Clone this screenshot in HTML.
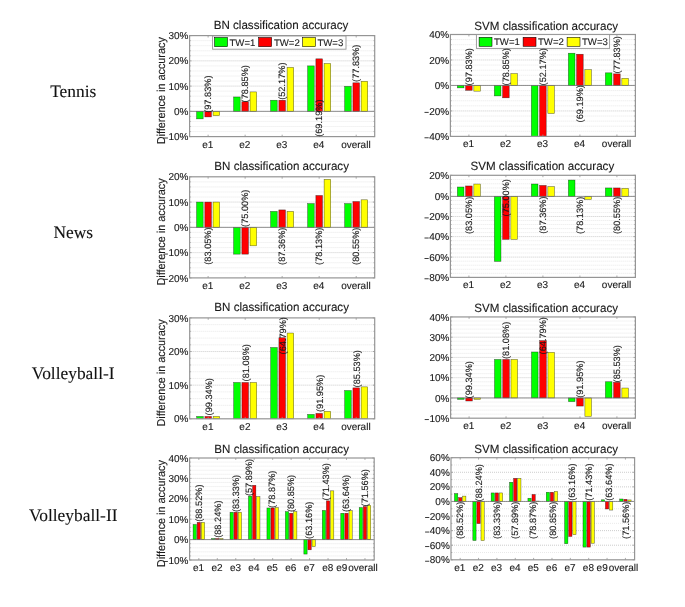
<!DOCTYPE html>
<html><head><meta charset="utf-8"><title>classification accuracy</title>
<style>
html,body{margin:0;padding:0;background:#fff;}
body{width:685px;height:607px;overflow:hidden;}
svg{display:block;will-change:transform;}
svg text{font-family:"Liberation Sans", sans-serif;text-rendering:geometricPrecision;stroke:#1a1a1a;stroke-width:0.12px;}
</style></head><body>
<svg width="685" height="607" viewBox="0 0 685 607">
<rect x="0" y="0" width="685" height="607" fill="#fff"/>
<line x1="190.6" y1="131.55" x2="373.7" y2="131.55" stroke="#e0e0e0" stroke-width="0.8" stroke-dasharray="0.9 1.1"/>
<line x1="190.6" y1="126.5" x2="373.7" y2="126.5" stroke="#e0e0e0" stroke-width="0.8" stroke-dasharray="0.9 1.1"/>
<line x1="190.6" y1="121.45" x2="373.7" y2="121.45" stroke="#e0e0e0" stroke-width="0.8" stroke-dasharray="0.9 1.1"/>
<line x1="190.6" y1="116.4" x2="373.7" y2="116.4" stroke="#e0e0e0" stroke-width="0.8" stroke-dasharray="0.9 1.1"/>
<line x1="190.6" y1="111.35" x2="373.7" y2="111.35" stroke="#b8b8b8" stroke-width="0.8" stroke-dasharray="0.9 1.1"/>
<line x1="190.6" y1="106.3" x2="373.7" y2="106.3" stroke="#e0e0e0" stroke-width="0.8" stroke-dasharray="0.9 1.1"/>
<line x1="190.6" y1="101.25" x2="373.7" y2="101.25" stroke="#e0e0e0" stroke-width="0.8" stroke-dasharray="0.9 1.1"/>
<line x1="190.6" y1="96.2" x2="373.7" y2="96.2" stroke="#e0e0e0" stroke-width="0.8" stroke-dasharray="0.9 1.1"/>
<line x1="190.6" y1="91.15" x2="373.7" y2="91.15" stroke="#e0e0e0" stroke-width="0.8" stroke-dasharray="0.9 1.1"/>
<line x1="190.6" y1="86.1" x2="373.7" y2="86.1" stroke="#b8b8b8" stroke-width="0.8" stroke-dasharray="0.9 1.1"/>
<line x1="190.6" y1="81.05" x2="373.7" y2="81.05" stroke="#e0e0e0" stroke-width="0.8" stroke-dasharray="0.9 1.1"/>
<line x1="190.6" y1="76" x2="373.7" y2="76" stroke="#e0e0e0" stroke-width="0.8" stroke-dasharray="0.9 1.1"/>
<line x1="190.6" y1="70.95" x2="373.7" y2="70.95" stroke="#e0e0e0" stroke-width="0.8" stroke-dasharray="0.9 1.1"/>
<line x1="190.6" y1="65.9" x2="373.7" y2="65.9" stroke="#e0e0e0" stroke-width="0.8" stroke-dasharray="0.9 1.1"/>
<line x1="190.6" y1="60.85" x2="373.7" y2="60.85" stroke="#b8b8b8" stroke-width="0.8" stroke-dasharray="0.9 1.1"/>
<line x1="190.6" y1="55.8" x2="373.7" y2="55.8" stroke="#e0e0e0" stroke-width="0.8" stroke-dasharray="0.9 1.1"/>
<line x1="190.6" y1="50.75" x2="373.7" y2="50.75" stroke="#e0e0e0" stroke-width="0.8" stroke-dasharray="0.9 1.1"/>
<line x1="190.6" y1="45.7" x2="373.7" y2="45.7" stroke="#e0e0e0" stroke-width="0.8" stroke-dasharray="0.9 1.1"/>
<line x1="190.6" y1="40.65" x2="373.7" y2="40.65" stroke="#e0e0e0" stroke-width="0.8" stroke-dasharray="0.9 1.1"/>
<rect x="196.59" y="111.35" width="6.58" height="7.5" fill="#00ff00" stroke="#000" stroke-opacity="0.6" stroke-width="0.55"/>
<rect x="204.82" y="111.35" width="6.58" height="5.56" fill="#ff0000" stroke="#000" stroke-opacity="0.6" stroke-width="0.55"/>
<rect x="213.05" y="111.35" width="6.58" height="4.29" fill="#ffff00" stroke="#000" stroke-opacity="0.6" stroke-width="0.55"/>
<rect x="233.61" y="96.96" width="6.58" height="14.39" fill="#00ff00" stroke="#000" stroke-opacity="0.6" stroke-width="0.55"/>
<rect x="241.84" y="101.75" width="6.58" height="9.59" fill="#ff0000" stroke="#000" stroke-opacity="0.6" stroke-width="0.55"/>
<rect x="250.07" y="91.91" width="6.58" height="19.44" fill="#ffff00" stroke="#000" stroke-opacity="0.6" stroke-width="0.55"/>
<rect x="270.63" y="100.24" width="6.58" height="11.11" fill="#00ff00" stroke="#000" stroke-opacity="0.6" stroke-width="0.55"/>
<rect x="278.86" y="100.24" width="6.58" height="11.11" fill="#ff0000" stroke="#000" stroke-opacity="0.6" stroke-width="0.55"/>
<rect x="287.09" y="67.42" width="6.58" height="43.93" fill="#ffff00" stroke="#000" stroke-opacity="0.6" stroke-width="0.55"/>
<rect x="307.65" y="65.9" width="6.58" height="45.45" fill="#00ff00" stroke="#000" stroke-opacity="0.6" stroke-width="0.55"/>
<rect x="315.88" y="58.83" width="6.58" height="52.52" fill="#ff0000" stroke="#000" stroke-opacity="0.6" stroke-width="0.55"/>
<rect x="324.11" y="63.5" width="6.58" height="47.85" fill="#ffff00" stroke="#000" stroke-opacity="0.6" stroke-width="0.55"/>
<rect x="344.67" y="86.35" width="6.58" height="25" fill="#00ff00" stroke="#000" stroke-opacity="0.6" stroke-width="0.55"/>
<rect x="352.9" y="82.82" width="6.58" height="28.53" fill="#ff0000" stroke="#000" stroke-opacity="0.6" stroke-width="0.55"/>
<rect x="361.13" y="81.3" width="6.58" height="30.05" fill="#ffff00" stroke="#000" stroke-opacity="0.6" stroke-width="0.55"/>
<line x1="189.6" y1="111.35" x2="374.7" y2="111.35" stroke="#707070" stroke-width="0.75"/>
<rect x="189.6" y="35.6" width="185.1" height="101" fill="none" stroke="#959595" stroke-width="1.2"/>
<line x1="189.6" y1="136.6" x2="191.5" y2="136.6" stroke="#959595" stroke-width="0.8"/>
<line x1="372.8" y1="136.6" x2="374.7" y2="136.6" stroke="#959595" stroke-width="0.8"/>
<line x1="189.6" y1="131.55" x2="190.7" y2="131.55" stroke="#959595" stroke-width="0.8"/>
<line x1="373.6" y1="131.55" x2="374.7" y2="131.55" stroke="#959595" stroke-width="0.8"/>
<line x1="189.6" y1="126.5" x2="190.7" y2="126.5" stroke="#959595" stroke-width="0.8"/>
<line x1="373.6" y1="126.5" x2="374.7" y2="126.5" stroke="#959595" stroke-width="0.8"/>
<line x1="189.6" y1="121.45" x2="190.7" y2="121.45" stroke="#959595" stroke-width="0.8"/>
<line x1="373.6" y1="121.45" x2="374.7" y2="121.45" stroke="#959595" stroke-width="0.8"/>
<line x1="189.6" y1="116.4" x2="190.7" y2="116.4" stroke="#959595" stroke-width="0.8"/>
<line x1="373.6" y1="116.4" x2="374.7" y2="116.4" stroke="#959595" stroke-width="0.8"/>
<line x1="189.6" y1="111.35" x2="191.5" y2="111.35" stroke="#959595" stroke-width="0.8"/>
<line x1="372.8" y1="111.35" x2="374.7" y2="111.35" stroke="#959595" stroke-width="0.8"/>
<line x1="189.6" y1="106.3" x2="190.7" y2="106.3" stroke="#959595" stroke-width="0.8"/>
<line x1="373.6" y1="106.3" x2="374.7" y2="106.3" stroke="#959595" stroke-width="0.8"/>
<line x1="189.6" y1="101.25" x2="190.7" y2="101.25" stroke="#959595" stroke-width="0.8"/>
<line x1="373.6" y1="101.25" x2="374.7" y2="101.25" stroke="#959595" stroke-width="0.8"/>
<line x1="189.6" y1="96.2" x2="190.7" y2="96.2" stroke="#959595" stroke-width="0.8"/>
<line x1="373.6" y1="96.2" x2="374.7" y2="96.2" stroke="#959595" stroke-width="0.8"/>
<line x1="189.6" y1="91.15" x2="190.7" y2="91.15" stroke="#959595" stroke-width="0.8"/>
<line x1="373.6" y1="91.15" x2="374.7" y2="91.15" stroke="#959595" stroke-width="0.8"/>
<line x1="189.6" y1="86.1" x2="191.5" y2="86.1" stroke="#959595" stroke-width="0.8"/>
<line x1="372.8" y1="86.1" x2="374.7" y2="86.1" stroke="#959595" stroke-width="0.8"/>
<line x1="189.6" y1="81.05" x2="190.7" y2="81.05" stroke="#959595" stroke-width="0.8"/>
<line x1="373.6" y1="81.05" x2="374.7" y2="81.05" stroke="#959595" stroke-width="0.8"/>
<line x1="189.6" y1="76" x2="190.7" y2="76" stroke="#959595" stroke-width="0.8"/>
<line x1="373.6" y1="76" x2="374.7" y2="76" stroke="#959595" stroke-width="0.8"/>
<line x1="189.6" y1="70.95" x2="190.7" y2="70.95" stroke="#959595" stroke-width="0.8"/>
<line x1="373.6" y1="70.95" x2="374.7" y2="70.95" stroke="#959595" stroke-width="0.8"/>
<line x1="189.6" y1="65.9" x2="190.7" y2="65.9" stroke="#959595" stroke-width="0.8"/>
<line x1="373.6" y1="65.9" x2="374.7" y2="65.9" stroke="#959595" stroke-width="0.8"/>
<line x1="189.6" y1="60.85" x2="191.5" y2="60.85" stroke="#959595" stroke-width="0.8"/>
<line x1="372.8" y1="60.85" x2="374.7" y2="60.85" stroke="#959595" stroke-width="0.8"/>
<line x1="189.6" y1="55.8" x2="190.7" y2="55.8" stroke="#959595" stroke-width="0.8"/>
<line x1="373.6" y1="55.8" x2="374.7" y2="55.8" stroke="#959595" stroke-width="0.8"/>
<line x1="189.6" y1="50.75" x2="190.7" y2="50.75" stroke="#959595" stroke-width="0.8"/>
<line x1="373.6" y1="50.75" x2="374.7" y2="50.75" stroke="#959595" stroke-width="0.8"/>
<line x1="189.6" y1="45.7" x2="190.7" y2="45.7" stroke="#959595" stroke-width="0.8"/>
<line x1="373.6" y1="45.7" x2="374.7" y2="45.7" stroke="#959595" stroke-width="0.8"/>
<line x1="189.6" y1="40.65" x2="190.7" y2="40.65" stroke="#959595" stroke-width="0.8"/>
<line x1="373.6" y1="40.65" x2="374.7" y2="40.65" stroke="#959595" stroke-width="0.8"/>
<line x1="189.6" y1="35.6" x2="191.5" y2="35.6" stroke="#959595" stroke-width="0.8"/>
<line x1="372.8" y1="35.6" x2="374.7" y2="35.6" stroke="#959595" stroke-width="0.8"/>
<line x1="208.11" y1="136.6" x2="208.11" y2="134.7" stroke="#959595" stroke-width="0.8"/>
<line x1="208.11" y1="35.6" x2="208.11" y2="37.5" stroke="#959595" stroke-width="0.8"/>
<line x1="245.13" y1="136.6" x2="245.13" y2="134.7" stroke="#959595" stroke-width="0.8"/>
<line x1="245.13" y1="35.6" x2="245.13" y2="37.5" stroke="#959595" stroke-width="0.8"/>
<line x1="282.15" y1="136.6" x2="282.15" y2="134.7" stroke="#959595" stroke-width="0.8"/>
<line x1="282.15" y1="35.6" x2="282.15" y2="37.5" stroke="#959595" stroke-width="0.8"/>
<line x1="319.17" y1="136.6" x2="319.17" y2="134.7" stroke="#959595" stroke-width="0.8"/>
<line x1="319.17" y1="35.6" x2="319.17" y2="37.5" stroke="#959595" stroke-width="0.8"/>
<line x1="356.19" y1="136.6" x2="356.19" y2="134.7" stroke="#959595" stroke-width="0.8"/>
<line x1="356.19" y1="35.6" x2="356.19" y2="37.5" stroke="#959595" stroke-width="0.8"/>
<rect x="212.6" y="36" width="133.4" height="13.2" fill="#fff" stroke="#959595" stroke-width="0.9"/>
<rect x="214.6" y="37.5" width="12.9" height="9.2" fill="#00ff00" stroke="#000" stroke-width="0.55"/>
<text x="229.5" y="45.6" font-size="9.6" fill="#1a1a1a">TW=1</text>
<rect x="258.7" y="37.5" width="12.9" height="9.2" fill="#ff0000" stroke="#000" stroke-width="0.55"/>
<text x="273.9" y="45.6" font-size="9.6" fill="#1a1a1a">TW=2</text>
<rect x="302.6" y="37.5" width="12.9" height="9.2" fill="#ffff00" stroke="#000" stroke-width="0.55"/>
<text x="317.4" y="45.6" font-size="9.6" fill="#1a1a1a">TW=3</text>
<text x="188.4" y="140.2" font-size="10" text-anchor="end" fill="#1a1a1a">10%</text>
<rect x="163.69" y="137.58" width="4.2" height="0.85" fill="#1a1a1a"/>
<text x="188.4" y="114.95" font-size="10" text-anchor="end" fill="#1a1a1a">0%</text>
<text x="188.4" y="89.7" font-size="10" text-anchor="end" fill="#1a1a1a">10%</text>
<text x="188.4" y="64.45" font-size="10" text-anchor="end" fill="#1a1a1a">20%</text>
<text x="188.4" y="39.2" font-size="10" text-anchor="end" fill="#1a1a1a">30%</text>
<text x="207.81" y="147.5" font-size="10" text-anchor="middle" fill="#1a1a1a">e1</text>
<text x="244.83" y="147.5" font-size="10" text-anchor="middle" fill="#1a1a1a">e2</text>
<text x="281.85" y="147.5" font-size="10" text-anchor="middle" fill="#1a1a1a">e3</text>
<text x="318.87" y="147.5" font-size="10" text-anchor="middle" fill="#1a1a1a">e4</text>
<text x="355.89" y="147.5" font-size="10" text-anchor="middle" fill="#1a1a1a">overall</text>
<text transform="translate(211.41 112.8) rotate(-90)" font-size="9.2" fill="#1a1a1a">(97.83%)</text>
<text transform="translate(248.43 102.4) rotate(-90)" font-size="9.2" fill="#1a1a1a">(78.85%)</text>
<text transform="translate(285.45 99.8) rotate(-90)" font-size="9.2" fill="#1a1a1a">(52.17%)</text>
<text transform="translate(322.47 136.8) rotate(-90)" font-size="9.2" fill="#1a1a1a">(69.19%)</text>
<text transform="translate(359.49 81.9) rotate(-90)" font-size="9.2" fill="#1a1a1a">(77.83%)</text>
<text transform="translate(213.7 29.35) scale(1 1.03)" font-size="11.6" fill="#1a1a1a">BN classification accuracy</text>
<text transform="translate(165.4 90.7) rotate(-90) scale(1 1.06)" font-size="10.85" text-anchor="middle" fill="#1a1a1a">Difference in accuracy</text>
<line x1="451.4" y1="131.31" x2="634.4" y2="131.31" stroke="#e0e0e0" stroke-width="0.8" stroke-dasharray="0.9 1.1"/>
<line x1="451.4" y1="126.21" x2="634.4" y2="126.21" stroke="#e0e0e0" stroke-width="0.8" stroke-dasharray="0.9 1.1"/>
<line x1="451.4" y1="121.12" x2="634.4" y2="121.12" stroke="#e0e0e0" stroke-width="0.8" stroke-dasharray="0.9 1.1"/>
<line x1="451.4" y1="116.02" x2="634.4" y2="116.02" stroke="#e0e0e0" stroke-width="0.8" stroke-dasharray="0.9 1.1"/>
<line x1="451.4" y1="110.93" x2="634.4" y2="110.93" stroke="#b8b8b8" stroke-width="0.8" stroke-dasharray="0.9 1.1"/>
<line x1="451.4" y1="105.83" x2="634.4" y2="105.83" stroke="#e0e0e0" stroke-width="0.8" stroke-dasharray="0.9 1.1"/>
<line x1="451.4" y1="100.74" x2="634.4" y2="100.74" stroke="#e0e0e0" stroke-width="0.8" stroke-dasharray="0.9 1.1"/>
<line x1="451.4" y1="95.64" x2="634.4" y2="95.64" stroke="#e0e0e0" stroke-width="0.8" stroke-dasharray="0.9 1.1"/>
<line x1="451.4" y1="90.55" x2="634.4" y2="90.55" stroke="#e0e0e0" stroke-width="0.8" stroke-dasharray="0.9 1.1"/>
<line x1="451.4" y1="85.45" x2="634.4" y2="85.45" stroke="#b8b8b8" stroke-width="0.8" stroke-dasharray="0.9 1.1"/>
<line x1="451.4" y1="80.36" x2="634.4" y2="80.36" stroke="#e0e0e0" stroke-width="0.8" stroke-dasharray="0.9 1.1"/>
<line x1="451.4" y1="75.26" x2="634.4" y2="75.26" stroke="#e0e0e0" stroke-width="0.8" stroke-dasharray="0.9 1.1"/>
<line x1="451.4" y1="70.17" x2="634.4" y2="70.17" stroke="#e0e0e0" stroke-width="0.8" stroke-dasharray="0.9 1.1"/>
<line x1="451.4" y1="65.07" x2="634.4" y2="65.07" stroke="#e0e0e0" stroke-width="0.8" stroke-dasharray="0.9 1.1"/>
<line x1="451.4" y1="59.98" x2="634.4" y2="59.98" stroke="#b8b8b8" stroke-width="0.8" stroke-dasharray="0.9 1.1"/>
<line x1="451.4" y1="54.88" x2="634.4" y2="54.88" stroke="#e0e0e0" stroke-width="0.8" stroke-dasharray="0.9 1.1"/>
<line x1="451.4" y1="49.79" x2="634.4" y2="49.79" stroke="#e0e0e0" stroke-width="0.8" stroke-dasharray="0.9 1.1"/>
<line x1="451.4" y1="44.69" x2="634.4" y2="44.69" stroke="#e0e0e0" stroke-width="0.8" stroke-dasharray="0.9 1.1"/>
<line x1="451.4" y1="39.59" x2="634.4" y2="39.59" stroke="#e0e0e0" stroke-width="0.8" stroke-dasharray="0.9 1.1"/>
<rect x="457.39" y="85.45" width="6.58" height="2.42" fill="#00ff00" stroke="#000" stroke-opacity="0.6" stroke-width="0.55"/>
<rect x="465.61" y="85.45" width="6.58" height="4.84" fill="#ff0000" stroke="#000" stroke-opacity="0.6" stroke-width="0.55"/>
<rect x="473.83" y="85.45" width="6.58" height="5.73" fill="#ffff00" stroke="#000" stroke-opacity="0.6" stroke-width="0.55"/>
<rect x="494.39" y="85.45" width="6.58" height="10.44" fill="#00ff00" stroke="#000" stroke-opacity="0.6" stroke-width="0.55"/>
<rect x="502.61" y="85.45" width="6.58" height="12.36" fill="#ff0000" stroke="#000" stroke-opacity="0.6" stroke-width="0.55"/>
<rect x="510.83" y="73.6" width="6.58" height="11.85" fill="#ffff00" stroke="#000" stroke-opacity="0.6" stroke-width="0.55"/>
<rect x="531.39" y="85.45" width="6.58" height="50.95" fill="#00ff00" stroke="#000" stroke-opacity="0.6" stroke-width="0.55"/>
<rect x="539.61" y="85.45" width="6.58" height="50.95" fill="#ff0000" stroke="#000" stroke-opacity="0.6" stroke-width="0.55"/>
<rect x="547.83" y="85.45" width="6.58" height="28.02" fill="#ffff00" stroke="#000" stroke-opacity="0.6" stroke-width="0.55"/>
<rect x="568.39" y="53.22" width="6.58" height="32.23" fill="#00ff00" stroke="#000" stroke-opacity="0.6" stroke-width="0.55"/>
<rect x="576.61" y="54.24" width="6.58" height="31.21" fill="#ff0000" stroke="#000" stroke-opacity="0.6" stroke-width="0.55"/>
<rect x="584.83" y="69.66" width="6.58" height="15.79" fill="#ffff00" stroke="#000" stroke-opacity="0.6" stroke-width="0.55"/>
<rect x="605.39" y="72.84" width="6.58" height="12.61" fill="#00ff00" stroke="#000" stroke-opacity="0.6" stroke-width="0.55"/>
<rect x="613.61" y="73.86" width="6.58" height="11.59" fill="#ff0000" stroke="#000" stroke-opacity="0.6" stroke-width="0.55"/>
<rect x="621.83" y="78.32" width="6.58" height="7.13" fill="#ffff00" stroke="#000" stroke-opacity="0.6" stroke-width="0.55"/>
<line x1="450.4" y1="85.45" x2="635.4" y2="85.45" stroke="#707070" stroke-width="0.75"/>
<rect x="450.4" y="34.5" width="185" height="101.9" fill="none" stroke="#959595" stroke-width="1.2"/>
<line x1="450.4" y1="136.4" x2="452.3" y2="136.4" stroke="#959595" stroke-width="0.8"/>
<line x1="633.5" y1="136.4" x2="635.4" y2="136.4" stroke="#959595" stroke-width="0.8"/>
<line x1="450.4" y1="131.31" x2="451.5" y2="131.31" stroke="#959595" stroke-width="0.8"/>
<line x1="634.3" y1="131.31" x2="635.4" y2="131.31" stroke="#959595" stroke-width="0.8"/>
<line x1="450.4" y1="126.21" x2="451.5" y2="126.21" stroke="#959595" stroke-width="0.8"/>
<line x1="634.3" y1="126.21" x2="635.4" y2="126.21" stroke="#959595" stroke-width="0.8"/>
<line x1="450.4" y1="121.12" x2="451.5" y2="121.12" stroke="#959595" stroke-width="0.8"/>
<line x1="634.3" y1="121.12" x2="635.4" y2="121.12" stroke="#959595" stroke-width="0.8"/>
<line x1="450.4" y1="116.02" x2="451.5" y2="116.02" stroke="#959595" stroke-width="0.8"/>
<line x1="634.3" y1="116.02" x2="635.4" y2="116.02" stroke="#959595" stroke-width="0.8"/>
<line x1="450.4" y1="110.93" x2="452.3" y2="110.93" stroke="#959595" stroke-width="0.8"/>
<line x1="633.5" y1="110.93" x2="635.4" y2="110.93" stroke="#959595" stroke-width="0.8"/>
<line x1="450.4" y1="105.83" x2="451.5" y2="105.83" stroke="#959595" stroke-width="0.8"/>
<line x1="634.3" y1="105.83" x2="635.4" y2="105.83" stroke="#959595" stroke-width="0.8"/>
<line x1="450.4" y1="100.74" x2="451.5" y2="100.74" stroke="#959595" stroke-width="0.8"/>
<line x1="634.3" y1="100.74" x2="635.4" y2="100.74" stroke="#959595" stroke-width="0.8"/>
<line x1="450.4" y1="95.64" x2="451.5" y2="95.64" stroke="#959595" stroke-width="0.8"/>
<line x1="634.3" y1="95.64" x2="635.4" y2="95.64" stroke="#959595" stroke-width="0.8"/>
<line x1="450.4" y1="90.55" x2="451.5" y2="90.55" stroke="#959595" stroke-width="0.8"/>
<line x1="634.3" y1="90.55" x2="635.4" y2="90.55" stroke="#959595" stroke-width="0.8"/>
<line x1="450.4" y1="85.45" x2="452.3" y2="85.45" stroke="#959595" stroke-width="0.8"/>
<line x1="633.5" y1="85.45" x2="635.4" y2="85.45" stroke="#959595" stroke-width="0.8"/>
<line x1="450.4" y1="80.36" x2="451.5" y2="80.36" stroke="#959595" stroke-width="0.8"/>
<line x1="634.3" y1="80.36" x2="635.4" y2="80.36" stroke="#959595" stroke-width="0.8"/>
<line x1="450.4" y1="75.26" x2="451.5" y2="75.26" stroke="#959595" stroke-width="0.8"/>
<line x1="634.3" y1="75.26" x2="635.4" y2="75.26" stroke="#959595" stroke-width="0.8"/>
<line x1="450.4" y1="70.17" x2="451.5" y2="70.17" stroke="#959595" stroke-width="0.8"/>
<line x1="634.3" y1="70.17" x2="635.4" y2="70.17" stroke="#959595" stroke-width="0.8"/>
<line x1="450.4" y1="65.07" x2="451.5" y2="65.07" stroke="#959595" stroke-width="0.8"/>
<line x1="634.3" y1="65.07" x2="635.4" y2="65.07" stroke="#959595" stroke-width="0.8"/>
<line x1="450.4" y1="59.98" x2="452.3" y2="59.98" stroke="#959595" stroke-width="0.8"/>
<line x1="633.5" y1="59.98" x2="635.4" y2="59.98" stroke="#959595" stroke-width="0.8"/>
<line x1="450.4" y1="54.88" x2="451.5" y2="54.88" stroke="#959595" stroke-width="0.8"/>
<line x1="634.3" y1="54.88" x2="635.4" y2="54.88" stroke="#959595" stroke-width="0.8"/>
<line x1="450.4" y1="49.79" x2="451.5" y2="49.79" stroke="#959595" stroke-width="0.8"/>
<line x1="634.3" y1="49.79" x2="635.4" y2="49.79" stroke="#959595" stroke-width="0.8"/>
<line x1="450.4" y1="44.69" x2="451.5" y2="44.69" stroke="#959595" stroke-width="0.8"/>
<line x1="634.3" y1="44.69" x2="635.4" y2="44.69" stroke="#959595" stroke-width="0.8"/>
<line x1="450.4" y1="39.59" x2="451.5" y2="39.59" stroke="#959595" stroke-width="0.8"/>
<line x1="634.3" y1="39.59" x2="635.4" y2="39.59" stroke="#959595" stroke-width="0.8"/>
<line x1="450.4" y1="34.5" x2="452.3" y2="34.5" stroke="#959595" stroke-width="0.8"/>
<line x1="633.5" y1="34.5" x2="635.4" y2="34.5" stroke="#959595" stroke-width="0.8"/>
<line x1="468.9" y1="136.4" x2="468.9" y2="134.5" stroke="#959595" stroke-width="0.8"/>
<line x1="468.9" y1="34.5" x2="468.9" y2="36.4" stroke="#959595" stroke-width="0.8"/>
<line x1="505.9" y1="136.4" x2="505.9" y2="134.5" stroke="#959595" stroke-width="0.8"/>
<line x1="505.9" y1="34.5" x2="505.9" y2="36.4" stroke="#959595" stroke-width="0.8"/>
<line x1="542.9" y1="136.4" x2="542.9" y2="134.5" stroke="#959595" stroke-width="0.8"/>
<line x1="542.9" y1="34.5" x2="542.9" y2="36.4" stroke="#959595" stroke-width="0.8"/>
<line x1="579.9" y1="136.4" x2="579.9" y2="134.5" stroke="#959595" stroke-width="0.8"/>
<line x1="579.9" y1="34.5" x2="579.9" y2="36.4" stroke="#959595" stroke-width="0.8"/>
<line x1="616.9" y1="136.4" x2="616.9" y2="134.5" stroke="#959595" stroke-width="0.8"/>
<line x1="616.9" y1="34.5" x2="616.9" y2="36.4" stroke="#959595" stroke-width="0.8"/>
<rect x="476.4" y="34.6" width="133.2" height="13.8" fill="#fff" stroke="#959595" stroke-width="0.9"/>
<rect x="479.1" y="37.3" width="12.9" height="9" fill="#00ff00" stroke="#000" stroke-width="0.55"/>
<text x="494" y="45.4" font-size="9.6" fill="#1a1a1a">TW=1</text>
<rect x="523.1" y="37.3" width="12.9" height="9" fill="#ff0000" stroke="#000" stroke-width="0.55"/>
<text x="538" y="45.4" font-size="9.6" fill="#1a1a1a">TW=2</text>
<rect x="567.1" y="37.3" width="12.9" height="9" fill="#ffff00" stroke="#000" stroke-width="0.55"/>
<text x="582" y="45.4" font-size="9.6" fill="#1a1a1a">TW=3</text>
<text x="449.2" y="140" font-size="10" text-anchor="end" fill="#1a1a1a">40%</text>
<rect x="424.49" y="137.38" width="4.2" height="0.85" fill="#1a1a1a"/>
<text x="449.2" y="114.53" font-size="10" text-anchor="end" fill="#1a1a1a">20%</text>
<rect x="424.49" y="111.91" width="4.2" height="0.85" fill="#1a1a1a"/>
<text x="449.2" y="89.05" font-size="10" text-anchor="end" fill="#1a1a1a">0%</text>
<text x="449.2" y="63.58" font-size="10" text-anchor="end" fill="#1a1a1a">20%</text>
<text x="449.2" y="38.1" font-size="10" text-anchor="end" fill="#1a1a1a">40%</text>
<text x="468.6" y="147.3" font-size="10" text-anchor="middle" fill="#1a1a1a">e1</text>
<text x="505.6" y="147.3" font-size="10" text-anchor="middle" fill="#1a1a1a">e2</text>
<text x="542.6" y="147.3" font-size="10" text-anchor="middle" fill="#1a1a1a">e3</text>
<text x="579.6" y="147.3" font-size="10" text-anchor="middle" fill="#1a1a1a">e4</text>
<text x="616.6" y="147.3" font-size="10" text-anchor="middle" fill="#1a1a1a">overall</text>
<text transform="translate(472.2 85.4) rotate(-90)" font-size="9.2" fill="#1a1a1a">(97.83%)</text>
<text transform="translate(509.2 85.4) rotate(-90)" font-size="9.2" fill="#1a1a1a">(78.85%)</text>
<text transform="translate(546.2 85.4) rotate(-90)" font-size="9.2" fill="#1a1a1a">(52.17%)</text>
<text transform="translate(583.2 122.4) rotate(-90)" font-size="9.2" fill="#1a1a1a">(69.19%)</text>
<text transform="translate(620.2 73.4) rotate(-90)" font-size="9.2" fill="#1a1a1a">(77.83%)</text>
<text transform="translate(474.3 29.7) scale(1 1.03)" font-size="11.6" fill="#1a1a1a">SVM classification accuracy</text>
<line x1="190.6" y1="272.84" x2="373.7" y2="272.84" stroke="#e0e0e0" stroke-width="0.8" stroke-dasharray="0.9 1.1"/>
<line x1="190.6" y1="267.79" x2="373.7" y2="267.79" stroke="#e0e0e0" stroke-width="0.8" stroke-dasharray="0.9 1.1"/>
<line x1="190.6" y1="262.73" x2="373.7" y2="262.73" stroke="#e0e0e0" stroke-width="0.8" stroke-dasharray="0.9 1.1"/>
<line x1="190.6" y1="257.68" x2="373.7" y2="257.68" stroke="#e0e0e0" stroke-width="0.8" stroke-dasharray="0.9 1.1"/>
<line x1="190.6" y1="252.62" x2="373.7" y2="252.62" stroke="#b8b8b8" stroke-width="0.8" stroke-dasharray="0.9 1.1"/>
<line x1="190.6" y1="247.57" x2="373.7" y2="247.57" stroke="#e0e0e0" stroke-width="0.8" stroke-dasharray="0.9 1.1"/>
<line x1="190.6" y1="242.51" x2="373.7" y2="242.51" stroke="#e0e0e0" stroke-width="0.8" stroke-dasharray="0.9 1.1"/>
<line x1="190.6" y1="237.46" x2="373.7" y2="237.46" stroke="#e0e0e0" stroke-width="0.8" stroke-dasharray="0.9 1.1"/>
<line x1="190.6" y1="232.4" x2="373.7" y2="232.4" stroke="#e0e0e0" stroke-width="0.8" stroke-dasharray="0.9 1.1"/>
<line x1="190.6" y1="227.35" x2="373.7" y2="227.35" stroke="#b8b8b8" stroke-width="0.8" stroke-dasharray="0.9 1.1"/>
<line x1="190.6" y1="222.29" x2="373.7" y2="222.29" stroke="#e0e0e0" stroke-width="0.8" stroke-dasharray="0.9 1.1"/>
<line x1="190.6" y1="217.24" x2="373.7" y2="217.24" stroke="#e0e0e0" stroke-width="0.8" stroke-dasharray="0.9 1.1"/>
<line x1="190.6" y1="212.19" x2="373.7" y2="212.19" stroke="#e0e0e0" stroke-width="0.8" stroke-dasharray="0.9 1.1"/>
<line x1="190.6" y1="207.13" x2="373.7" y2="207.13" stroke="#e0e0e0" stroke-width="0.8" stroke-dasharray="0.9 1.1"/>
<line x1="190.6" y1="202.07" x2="373.7" y2="202.07" stroke="#b8b8b8" stroke-width="0.8" stroke-dasharray="0.9 1.1"/>
<line x1="190.6" y1="197.02" x2="373.7" y2="197.02" stroke="#e0e0e0" stroke-width="0.8" stroke-dasharray="0.9 1.1"/>
<line x1="190.6" y1="191.97" x2="373.7" y2="191.97" stroke="#e0e0e0" stroke-width="0.8" stroke-dasharray="0.9 1.1"/>
<line x1="190.6" y1="186.91" x2="373.7" y2="186.91" stroke="#e0e0e0" stroke-width="0.8" stroke-dasharray="0.9 1.1"/>
<line x1="190.6" y1="181.86" x2="373.7" y2="181.86" stroke="#e0e0e0" stroke-width="0.8" stroke-dasharray="0.9 1.1"/>
<rect x="196.59" y="202.07" width="6.58" height="25.28" fill="#00ff00" stroke="#000" stroke-opacity="0.6" stroke-width="0.55"/>
<rect x="204.82" y="202.07" width="6.58" height="25.28" fill="#ff0000" stroke="#000" stroke-opacity="0.6" stroke-width="0.55"/>
<rect x="213.05" y="202.07" width="6.58" height="25.28" fill="#ffff00" stroke="#000" stroke-opacity="0.6" stroke-width="0.55"/>
<rect x="233.61" y="227.35" width="6.58" height="26.79" fill="#00ff00" stroke="#000" stroke-opacity="0.6" stroke-width="0.55"/>
<rect x="241.84" y="227.35" width="6.58" height="26.79" fill="#ff0000" stroke="#000" stroke-opacity="0.6" stroke-width="0.55"/>
<rect x="250.07" y="227.35" width="6.58" height="18.45" fill="#ffff00" stroke="#000" stroke-opacity="0.6" stroke-width="0.55"/>
<rect x="270.63" y="211.43" width="6.58" height="15.92" fill="#00ff00" stroke="#000" stroke-opacity="0.6" stroke-width="0.55"/>
<rect x="278.86" y="209.91" width="6.58" height="17.44" fill="#ff0000" stroke="#000" stroke-opacity="0.6" stroke-width="0.55"/>
<rect x="287.09" y="211.43" width="6.58" height="15.92" fill="#ffff00" stroke="#000" stroke-opacity="0.6" stroke-width="0.55"/>
<rect x="307.65" y="203.59" width="6.58" height="23.76" fill="#00ff00" stroke="#000" stroke-opacity="0.6" stroke-width="0.55"/>
<rect x="315.88" y="195.5" width="6.58" height="31.85" fill="#ff0000" stroke="#000" stroke-opacity="0.6" stroke-width="0.55"/>
<rect x="324.11" y="179.33" width="6.58" height="48.02" fill="#ffff00" stroke="#000" stroke-opacity="0.6" stroke-width="0.55"/>
<rect x="344.67" y="203.59" width="6.58" height="23.76" fill="#00ff00" stroke="#000" stroke-opacity="0.6" stroke-width="0.55"/>
<rect x="352.9" y="201.57" width="6.58" height="25.78" fill="#ff0000" stroke="#000" stroke-opacity="0.6" stroke-width="0.55"/>
<rect x="361.13" y="199.8" width="6.58" height="27.55" fill="#ffff00" stroke="#000" stroke-opacity="0.6" stroke-width="0.55"/>
<line x1="189.6" y1="227.35" x2="374.7" y2="227.35" stroke="#707070" stroke-width="0.75"/>
<rect x="189.6" y="176.8" width="185.1" height="101.1" fill="none" stroke="#959595" stroke-width="1.2"/>
<line x1="189.6" y1="277.9" x2="191.5" y2="277.9" stroke="#959595" stroke-width="0.8"/>
<line x1="372.8" y1="277.9" x2="374.7" y2="277.9" stroke="#959595" stroke-width="0.8"/>
<line x1="189.6" y1="272.84" x2="190.7" y2="272.84" stroke="#959595" stroke-width="0.8"/>
<line x1="373.6" y1="272.84" x2="374.7" y2="272.84" stroke="#959595" stroke-width="0.8"/>
<line x1="189.6" y1="267.79" x2="190.7" y2="267.79" stroke="#959595" stroke-width="0.8"/>
<line x1="373.6" y1="267.79" x2="374.7" y2="267.79" stroke="#959595" stroke-width="0.8"/>
<line x1="189.6" y1="262.73" x2="190.7" y2="262.73" stroke="#959595" stroke-width="0.8"/>
<line x1="373.6" y1="262.73" x2="374.7" y2="262.73" stroke="#959595" stroke-width="0.8"/>
<line x1="189.6" y1="257.68" x2="190.7" y2="257.68" stroke="#959595" stroke-width="0.8"/>
<line x1="373.6" y1="257.68" x2="374.7" y2="257.68" stroke="#959595" stroke-width="0.8"/>
<line x1="189.6" y1="252.62" x2="191.5" y2="252.62" stroke="#959595" stroke-width="0.8"/>
<line x1="372.8" y1="252.62" x2="374.7" y2="252.62" stroke="#959595" stroke-width="0.8"/>
<line x1="189.6" y1="247.57" x2="190.7" y2="247.57" stroke="#959595" stroke-width="0.8"/>
<line x1="373.6" y1="247.57" x2="374.7" y2="247.57" stroke="#959595" stroke-width="0.8"/>
<line x1="189.6" y1="242.51" x2="190.7" y2="242.51" stroke="#959595" stroke-width="0.8"/>
<line x1="373.6" y1="242.51" x2="374.7" y2="242.51" stroke="#959595" stroke-width="0.8"/>
<line x1="189.6" y1="237.46" x2="190.7" y2="237.46" stroke="#959595" stroke-width="0.8"/>
<line x1="373.6" y1="237.46" x2="374.7" y2="237.46" stroke="#959595" stroke-width="0.8"/>
<line x1="189.6" y1="232.4" x2="190.7" y2="232.4" stroke="#959595" stroke-width="0.8"/>
<line x1="373.6" y1="232.4" x2="374.7" y2="232.4" stroke="#959595" stroke-width="0.8"/>
<line x1="189.6" y1="227.35" x2="191.5" y2="227.35" stroke="#959595" stroke-width="0.8"/>
<line x1="372.8" y1="227.35" x2="374.7" y2="227.35" stroke="#959595" stroke-width="0.8"/>
<line x1="189.6" y1="222.29" x2="190.7" y2="222.29" stroke="#959595" stroke-width="0.8"/>
<line x1="373.6" y1="222.29" x2="374.7" y2="222.29" stroke="#959595" stroke-width="0.8"/>
<line x1="189.6" y1="217.24" x2="190.7" y2="217.24" stroke="#959595" stroke-width="0.8"/>
<line x1="373.6" y1="217.24" x2="374.7" y2="217.24" stroke="#959595" stroke-width="0.8"/>
<line x1="189.6" y1="212.19" x2="190.7" y2="212.19" stroke="#959595" stroke-width="0.8"/>
<line x1="373.6" y1="212.19" x2="374.7" y2="212.19" stroke="#959595" stroke-width="0.8"/>
<line x1="189.6" y1="207.13" x2="190.7" y2="207.13" stroke="#959595" stroke-width="0.8"/>
<line x1="373.6" y1="207.13" x2="374.7" y2="207.13" stroke="#959595" stroke-width="0.8"/>
<line x1="189.6" y1="202.07" x2="191.5" y2="202.07" stroke="#959595" stroke-width="0.8"/>
<line x1="372.8" y1="202.07" x2="374.7" y2="202.07" stroke="#959595" stroke-width="0.8"/>
<line x1="189.6" y1="197.02" x2="190.7" y2="197.02" stroke="#959595" stroke-width="0.8"/>
<line x1="373.6" y1="197.02" x2="374.7" y2="197.02" stroke="#959595" stroke-width="0.8"/>
<line x1="189.6" y1="191.97" x2="190.7" y2="191.97" stroke="#959595" stroke-width="0.8"/>
<line x1="373.6" y1="191.97" x2="374.7" y2="191.97" stroke="#959595" stroke-width="0.8"/>
<line x1="189.6" y1="186.91" x2="190.7" y2="186.91" stroke="#959595" stroke-width="0.8"/>
<line x1="373.6" y1="186.91" x2="374.7" y2="186.91" stroke="#959595" stroke-width="0.8"/>
<line x1="189.6" y1="181.86" x2="190.7" y2="181.86" stroke="#959595" stroke-width="0.8"/>
<line x1="373.6" y1="181.86" x2="374.7" y2="181.86" stroke="#959595" stroke-width="0.8"/>
<line x1="189.6" y1="176.8" x2="191.5" y2="176.8" stroke="#959595" stroke-width="0.8"/>
<line x1="372.8" y1="176.8" x2="374.7" y2="176.8" stroke="#959595" stroke-width="0.8"/>
<line x1="208.11" y1="277.9" x2="208.11" y2="276" stroke="#959595" stroke-width="0.8"/>
<line x1="208.11" y1="176.8" x2="208.11" y2="178.7" stroke="#959595" stroke-width="0.8"/>
<line x1="245.13" y1="277.9" x2="245.13" y2="276" stroke="#959595" stroke-width="0.8"/>
<line x1="245.13" y1="176.8" x2="245.13" y2="178.7" stroke="#959595" stroke-width="0.8"/>
<line x1="282.15" y1="277.9" x2="282.15" y2="276" stroke="#959595" stroke-width="0.8"/>
<line x1="282.15" y1="176.8" x2="282.15" y2="178.7" stroke="#959595" stroke-width="0.8"/>
<line x1="319.17" y1="277.9" x2="319.17" y2="276" stroke="#959595" stroke-width="0.8"/>
<line x1="319.17" y1="176.8" x2="319.17" y2="178.7" stroke="#959595" stroke-width="0.8"/>
<line x1="356.19" y1="277.9" x2="356.19" y2="276" stroke="#959595" stroke-width="0.8"/>
<line x1="356.19" y1="176.8" x2="356.19" y2="178.7" stroke="#959595" stroke-width="0.8"/>
<text x="188.4" y="281.5" font-size="10" text-anchor="end" fill="#1a1a1a">20%</text>
<rect x="163.69" y="278.88" width="4.2" height="0.85" fill="#1a1a1a"/>
<text x="188.4" y="256.23" font-size="10" text-anchor="end" fill="#1a1a1a">10%</text>
<rect x="163.69" y="253.61" width="4.2" height="0.85" fill="#1a1a1a"/>
<text x="188.4" y="230.95" font-size="10" text-anchor="end" fill="#1a1a1a">0%</text>
<text x="188.4" y="205.67" font-size="10" text-anchor="end" fill="#1a1a1a">10%</text>
<text x="188.4" y="180.4" font-size="10" text-anchor="end" fill="#1a1a1a">20%</text>
<text x="207.81" y="288.8" font-size="10" text-anchor="middle" fill="#1a1a1a">e1</text>
<text x="244.83" y="288.8" font-size="10" text-anchor="middle" fill="#1a1a1a">e2</text>
<text x="281.85" y="288.8" font-size="10" text-anchor="middle" fill="#1a1a1a">e3</text>
<text x="318.87" y="288.8" font-size="10" text-anchor="middle" fill="#1a1a1a">e4</text>
<text x="355.89" y="288.8" font-size="10" text-anchor="middle" fill="#1a1a1a">overall</text>
<text transform="translate(211.41 264.7) rotate(-90)" font-size="9.2" fill="#1a1a1a">(83.05%)</text>
<text transform="translate(248.43 226.9) rotate(-90)" font-size="9.2" fill="#1a1a1a">(75.00%)</text>
<text transform="translate(285.45 264.9) rotate(-90)" font-size="9.2" fill="#1a1a1a">(87.36%)</text>
<text transform="translate(322.47 264.9) rotate(-90)" font-size="9.2" fill="#1a1a1a">(78.13%)</text>
<text transform="translate(359.49 264.9) rotate(-90)" font-size="9.2" fill="#1a1a1a">(80.55%)</text>
<text transform="translate(214.3 170) scale(1 1.03)" font-size="11.6" fill="#1a1a1a">BN classification accuracy</text>
<text transform="translate(165.4 231.95) rotate(-90) scale(1 1.06)" font-size="10.85" text-anchor="middle" fill="#1a1a1a">Difference in accuracy</text>
<line x1="451.4" y1="273.34" x2="634.4" y2="273.34" stroke="#e0e0e0" stroke-width="0.8" stroke-dasharray="0.9 1.1"/>
<line x1="451.4" y1="269.28" x2="634.4" y2="269.28" stroke="#e0e0e0" stroke-width="0.8" stroke-dasharray="0.9 1.1"/>
<line x1="451.4" y1="265.22" x2="634.4" y2="265.22" stroke="#e0e0e0" stroke-width="0.8" stroke-dasharray="0.9 1.1"/>
<line x1="451.4" y1="261.16" x2="634.4" y2="261.16" stroke="#e0e0e0" stroke-width="0.8" stroke-dasharray="0.9 1.1"/>
<line x1="451.4" y1="257.1" x2="634.4" y2="257.1" stroke="#b8b8b8" stroke-width="0.8" stroke-dasharray="0.9 1.1"/>
<line x1="451.4" y1="253" x2="634.4" y2="253" stroke="#e0e0e0" stroke-width="0.8" stroke-dasharray="0.9 1.1"/>
<line x1="451.4" y1="248.9" x2="634.4" y2="248.9" stroke="#e0e0e0" stroke-width="0.8" stroke-dasharray="0.9 1.1"/>
<line x1="451.4" y1="244.8" x2="634.4" y2="244.8" stroke="#e0e0e0" stroke-width="0.8" stroke-dasharray="0.9 1.1"/>
<line x1="451.4" y1="240.7" x2="634.4" y2="240.7" stroke="#e0e0e0" stroke-width="0.8" stroke-dasharray="0.9 1.1"/>
<line x1="451.4" y1="236.6" x2="634.4" y2="236.6" stroke="#b8b8b8" stroke-width="0.8" stroke-dasharray="0.9 1.1"/>
<line x1="451.4" y1="232.58" x2="634.4" y2="232.58" stroke="#e0e0e0" stroke-width="0.8" stroke-dasharray="0.9 1.1"/>
<line x1="451.4" y1="228.56" x2="634.4" y2="228.56" stroke="#e0e0e0" stroke-width="0.8" stroke-dasharray="0.9 1.1"/>
<line x1="451.4" y1="224.54" x2="634.4" y2="224.54" stroke="#e0e0e0" stroke-width="0.8" stroke-dasharray="0.9 1.1"/>
<line x1="451.4" y1="220.52" x2="634.4" y2="220.52" stroke="#e0e0e0" stroke-width="0.8" stroke-dasharray="0.9 1.1"/>
<line x1="451.4" y1="216.5" x2="634.4" y2="216.5" stroke="#b8b8b8" stroke-width="0.8" stroke-dasharray="0.9 1.1"/>
<line x1="451.4" y1="212.48" x2="634.4" y2="212.48" stroke="#e0e0e0" stroke-width="0.8" stroke-dasharray="0.9 1.1"/>
<line x1="451.4" y1="208.46" x2="634.4" y2="208.46" stroke="#e0e0e0" stroke-width="0.8" stroke-dasharray="0.9 1.1"/>
<line x1="451.4" y1="204.44" x2="634.4" y2="204.44" stroke="#e0e0e0" stroke-width="0.8" stroke-dasharray="0.9 1.1"/>
<line x1="451.4" y1="200.42" x2="634.4" y2="200.42" stroke="#e0e0e0" stroke-width="0.8" stroke-dasharray="0.9 1.1"/>
<line x1="451.4" y1="196.4" x2="634.4" y2="196.4" stroke="#b8b8b8" stroke-width="0.8" stroke-dasharray="0.9 1.1"/>
<line x1="451.4" y1="192.18" x2="634.4" y2="192.18" stroke="#e0e0e0" stroke-width="0.8" stroke-dasharray="0.9 1.1"/>
<line x1="451.4" y1="187.96" x2="634.4" y2="187.96" stroke="#e0e0e0" stroke-width="0.8" stroke-dasharray="0.9 1.1"/>
<line x1="451.4" y1="183.74" x2="634.4" y2="183.74" stroke="#e0e0e0" stroke-width="0.8" stroke-dasharray="0.9 1.1"/>
<line x1="451.4" y1="179.52" x2="634.4" y2="179.52" stroke="#e0e0e0" stroke-width="0.8" stroke-dasharray="0.9 1.1"/>
<rect x="457.39" y="187.01" width="6.58" height="9.39" fill="#00ff00" stroke="#000" stroke-opacity="0.6" stroke-width="0.55"/>
<rect x="465.61" y="185.96" width="6.58" height="10.44" fill="#ff0000" stroke="#000" stroke-opacity="0.6" stroke-width="0.55"/>
<rect x="473.83" y="184.06" width="6.58" height="12.34" fill="#ffff00" stroke="#000" stroke-opacity="0.6" stroke-width="0.55"/>
<rect x="494.39" y="196.4" width="6.58" height="64.96" fill="#00ff00" stroke="#000" stroke-opacity="0.6" stroke-width="0.55"/>
<rect x="502.61" y="196.4" width="6.58" height="42.97" fill="#ff0000" stroke="#000" stroke-opacity="0.6" stroke-width="0.55"/>
<rect x="510.83" y="196.4" width="6.58" height="42.97" fill="#ffff00" stroke="#000" stroke-opacity="0.6" stroke-width="0.55"/>
<rect x="531.39" y="184" width="6.58" height="12.4" fill="#00ff00" stroke="#000" stroke-opacity="0.6" stroke-width="0.55"/>
<rect x="539.61" y="185.43" width="6.58" height="10.97" fill="#ff0000" stroke="#000" stroke-opacity="0.6" stroke-width="0.55"/>
<rect x="547.83" y="186.59" width="6.58" height="9.81" fill="#ffff00" stroke="#000" stroke-opacity="0.6" stroke-width="0.55"/>
<rect x="568.39" y="180.05" width="6.58" height="16.35" fill="#00ff00" stroke="#000" stroke-opacity="0.6" stroke-width="0.55"/>
<rect x="584.83" y="196.4" width="6.58" height="3.01" fill="#ffff00" stroke="#000" stroke-opacity="0.6" stroke-width="0.55"/>
<rect x="605.39" y="187.96" width="6.58" height="8.44" fill="#00ff00" stroke="#000" stroke-opacity="0.6" stroke-width="0.55"/>
<rect x="613.61" y="187.96" width="6.58" height="8.44" fill="#ff0000" stroke="#000" stroke-opacity="0.6" stroke-width="0.55"/>
<rect x="621.83" y="188.38" width="6.58" height="8.02" fill="#ffff00" stroke="#000" stroke-opacity="0.6" stroke-width="0.55"/>
<line x1="450.4" y1="196.4" x2="635.4" y2="196.4" stroke="#707070" stroke-width="0.75"/>
<rect x="450.4" y="175.3" width="185" height="102.1" fill="none" stroke="#959595" stroke-width="1.2"/>
<line x1="450.4" y1="277.4" x2="452.3" y2="277.4" stroke="#959595" stroke-width="0.8"/>
<line x1="633.5" y1="277.4" x2="635.4" y2="277.4" stroke="#959595" stroke-width="0.8"/>
<line x1="450.4" y1="273.34" x2="451.5" y2="273.34" stroke="#959595" stroke-width="0.8"/>
<line x1="634.3" y1="273.34" x2="635.4" y2="273.34" stroke="#959595" stroke-width="0.8"/>
<line x1="450.4" y1="269.28" x2="451.5" y2="269.28" stroke="#959595" stroke-width="0.8"/>
<line x1="634.3" y1="269.28" x2="635.4" y2="269.28" stroke="#959595" stroke-width="0.8"/>
<line x1="450.4" y1="265.22" x2="451.5" y2="265.22" stroke="#959595" stroke-width="0.8"/>
<line x1="634.3" y1="265.22" x2="635.4" y2="265.22" stroke="#959595" stroke-width="0.8"/>
<line x1="450.4" y1="261.16" x2="451.5" y2="261.16" stroke="#959595" stroke-width="0.8"/>
<line x1="634.3" y1="261.16" x2="635.4" y2="261.16" stroke="#959595" stroke-width="0.8"/>
<line x1="450.4" y1="257.1" x2="452.3" y2="257.1" stroke="#959595" stroke-width="0.8"/>
<line x1="633.5" y1="257.1" x2="635.4" y2="257.1" stroke="#959595" stroke-width="0.8"/>
<line x1="450.4" y1="253" x2="451.5" y2="253" stroke="#959595" stroke-width="0.8"/>
<line x1="634.3" y1="253" x2="635.4" y2="253" stroke="#959595" stroke-width="0.8"/>
<line x1="450.4" y1="248.9" x2="451.5" y2="248.9" stroke="#959595" stroke-width="0.8"/>
<line x1="634.3" y1="248.9" x2="635.4" y2="248.9" stroke="#959595" stroke-width="0.8"/>
<line x1="450.4" y1="244.8" x2="451.5" y2="244.8" stroke="#959595" stroke-width="0.8"/>
<line x1="634.3" y1="244.8" x2="635.4" y2="244.8" stroke="#959595" stroke-width="0.8"/>
<line x1="450.4" y1="240.7" x2="451.5" y2="240.7" stroke="#959595" stroke-width="0.8"/>
<line x1="634.3" y1="240.7" x2="635.4" y2="240.7" stroke="#959595" stroke-width="0.8"/>
<line x1="450.4" y1="236.6" x2="452.3" y2="236.6" stroke="#959595" stroke-width="0.8"/>
<line x1="633.5" y1="236.6" x2="635.4" y2="236.6" stroke="#959595" stroke-width="0.8"/>
<line x1="450.4" y1="232.58" x2="451.5" y2="232.58" stroke="#959595" stroke-width="0.8"/>
<line x1="634.3" y1="232.58" x2="635.4" y2="232.58" stroke="#959595" stroke-width="0.8"/>
<line x1="450.4" y1="228.56" x2="451.5" y2="228.56" stroke="#959595" stroke-width="0.8"/>
<line x1="634.3" y1="228.56" x2="635.4" y2="228.56" stroke="#959595" stroke-width="0.8"/>
<line x1="450.4" y1="224.54" x2="451.5" y2="224.54" stroke="#959595" stroke-width="0.8"/>
<line x1="634.3" y1="224.54" x2="635.4" y2="224.54" stroke="#959595" stroke-width="0.8"/>
<line x1="450.4" y1="220.52" x2="451.5" y2="220.52" stroke="#959595" stroke-width="0.8"/>
<line x1="634.3" y1="220.52" x2="635.4" y2="220.52" stroke="#959595" stroke-width="0.8"/>
<line x1="450.4" y1="216.5" x2="452.3" y2="216.5" stroke="#959595" stroke-width="0.8"/>
<line x1="633.5" y1="216.5" x2="635.4" y2="216.5" stroke="#959595" stroke-width="0.8"/>
<line x1="450.4" y1="212.48" x2="451.5" y2="212.48" stroke="#959595" stroke-width="0.8"/>
<line x1="634.3" y1="212.48" x2="635.4" y2="212.48" stroke="#959595" stroke-width="0.8"/>
<line x1="450.4" y1="208.46" x2="451.5" y2="208.46" stroke="#959595" stroke-width="0.8"/>
<line x1="634.3" y1="208.46" x2="635.4" y2="208.46" stroke="#959595" stroke-width="0.8"/>
<line x1="450.4" y1="204.44" x2="451.5" y2="204.44" stroke="#959595" stroke-width="0.8"/>
<line x1="634.3" y1="204.44" x2="635.4" y2="204.44" stroke="#959595" stroke-width="0.8"/>
<line x1="450.4" y1="200.42" x2="451.5" y2="200.42" stroke="#959595" stroke-width="0.8"/>
<line x1="634.3" y1="200.42" x2="635.4" y2="200.42" stroke="#959595" stroke-width="0.8"/>
<line x1="450.4" y1="196.4" x2="452.3" y2="196.4" stroke="#959595" stroke-width="0.8"/>
<line x1="633.5" y1="196.4" x2="635.4" y2="196.4" stroke="#959595" stroke-width="0.8"/>
<line x1="450.4" y1="192.18" x2="451.5" y2="192.18" stroke="#959595" stroke-width="0.8"/>
<line x1="634.3" y1="192.18" x2="635.4" y2="192.18" stroke="#959595" stroke-width="0.8"/>
<line x1="450.4" y1="187.96" x2="451.5" y2="187.96" stroke="#959595" stroke-width="0.8"/>
<line x1="634.3" y1="187.96" x2="635.4" y2="187.96" stroke="#959595" stroke-width="0.8"/>
<line x1="450.4" y1="183.74" x2="451.5" y2="183.74" stroke="#959595" stroke-width="0.8"/>
<line x1="634.3" y1="183.74" x2="635.4" y2="183.74" stroke="#959595" stroke-width="0.8"/>
<line x1="450.4" y1="179.52" x2="451.5" y2="179.52" stroke="#959595" stroke-width="0.8"/>
<line x1="634.3" y1="179.52" x2="635.4" y2="179.52" stroke="#959595" stroke-width="0.8"/>
<line x1="450.4" y1="175.3" x2="452.3" y2="175.3" stroke="#959595" stroke-width="0.8"/>
<line x1="633.5" y1="175.3" x2="635.4" y2="175.3" stroke="#959595" stroke-width="0.8"/>
<line x1="468.9" y1="277.4" x2="468.9" y2="275.5" stroke="#959595" stroke-width="0.8"/>
<line x1="468.9" y1="175.3" x2="468.9" y2="177.2" stroke="#959595" stroke-width="0.8"/>
<line x1="505.9" y1="277.4" x2="505.9" y2="275.5" stroke="#959595" stroke-width="0.8"/>
<line x1="505.9" y1="175.3" x2="505.9" y2="177.2" stroke="#959595" stroke-width="0.8"/>
<line x1="542.9" y1="277.4" x2="542.9" y2="275.5" stroke="#959595" stroke-width="0.8"/>
<line x1="542.9" y1="175.3" x2="542.9" y2="177.2" stroke="#959595" stroke-width="0.8"/>
<line x1="579.9" y1="277.4" x2="579.9" y2="275.5" stroke="#959595" stroke-width="0.8"/>
<line x1="579.9" y1="175.3" x2="579.9" y2="177.2" stroke="#959595" stroke-width="0.8"/>
<line x1="616.9" y1="277.4" x2="616.9" y2="275.5" stroke="#959595" stroke-width="0.8"/>
<line x1="616.9" y1="175.3" x2="616.9" y2="177.2" stroke="#959595" stroke-width="0.8"/>
<text x="449.2" y="281" font-size="10" text-anchor="end" fill="#1a1a1a">80%</text>
<rect x="424.49" y="278.38" width="4.2" height="0.85" fill="#1a1a1a"/>
<text x="449.2" y="260.7" font-size="10" text-anchor="end" fill="#1a1a1a">60%</text>
<rect x="424.49" y="258.08" width="4.2" height="0.85" fill="#1a1a1a"/>
<text x="449.2" y="240.2" font-size="10" text-anchor="end" fill="#1a1a1a">40%</text>
<rect x="424.49" y="237.58" width="4.2" height="0.85" fill="#1a1a1a"/>
<text x="449.2" y="220.1" font-size="10" text-anchor="end" fill="#1a1a1a">20%</text>
<rect x="424.49" y="217.48" width="4.2" height="0.85" fill="#1a1a1a"/>
<text x="449.2" y="200" font-size="10" text-anchor="end" fill="#1a1a1a">0%</text>
<text x="449.2" y="178.9" font-size="10" text-anchor="end" fill="#1a1a1a">20%</text>
<text x="468.6" y="288.3" font-size="10" text-anchor="middle" fill="#1a1a1a">e1</text>
<text x="505.6" y="288.3" font-size="10" text-anchor="middle" fill="#1a1a1a">e2</text>
<text x="542.6" y="288.3" font-size="10" text-anchor="middle" fill="#1a1a1a">e3</text>
<text x="579.6" y="288.3" font-size="10" text-anchor="middle" fill="#1a1a1a">e4</text>
<text x="616.6" y="288.3" font-size="10" text-anchor="middle" fill="#1a1a1a">overall</text>
<text transform="translate(472.2 234) rotate(-90)" font-size="9.2" fill="#1a1a1a">(83.05%)</text>
<text transform="translate(509.2 216.4) rotate(-90)" font-size="9.2" fill="#1a1a1a">(75.00%)</text>
<text transform="translate(546.2 233.7) rotate(-90)" font-size="9.2" fill="#1a1a1a">(87.36%)</text>
<text transform="translate(583.2 234) rotate(-90)" font-size="9.2" fill="#1a1a1a">(78.13%)</text>
<text transform="translate(620.2 234) rotate(-90)" font-size="9.2" fill="#1a1a1a">(80.55%)</text>
<text transform="translate(470.5 170) scale(1 1.03)" font-size="11.6" fill="#1a1a1a">SVM classification accuracy</text>
<line x1="190.7" y1="412.07" x2="373.7" y2="412.07" stroke="#e0e0e0" stroke-width="0.8" stroke-dasharray="0.9 1.1"/>
<line x1="190.7" y1="405.35" x2="373.7" y2="405.35" stroke="#e0e0e0" stroke-width="0.8" stroke-dasharray="0.9 1.1"/>
<line x1="190.7" y1="398.62" x2="373.7" y2="398.62" stroke="#e0e0e0" stroke-width="0.8" stroke-dasharray="0.9 1.1"/>
<line x1="190.7" y1="391.89" x2="373.7" y2="391.89" stroke="#e0e0e0" stroke-width="0.8" stroke-dasharray="0.9 1.1"/>
<line x1="190.7" y1="385.17" x2="373.7" y2="385.17" stroke="#b8b8b8" stroke-width="0.8" stroke-dasharray="0.9 1.1"/>
<line x1="190.7" y1="378.44" x2="373.7" y2="378.44" stroke="#e0e0e0" stroke-width="0.8" stroke-dasharray="0.9 1.1"/>
<line x1="190.7" y1="371.71" x2="373.7" y2="371.71" stroke="#e0e0e0" stroke-width="0.8" stroke-dasharray="0.9 1.1"/>
<line x1="190.7" y1="364.99" x2="373.7" y2="364.99" stroke="#e0e0e0" stroke-width="0.8" stroke-dasharray="0.9 1.1"/>
<line x1="190.7" y1="358.26" x2="373.7" y2="358.26" stroke="#e0e0e0" stroke-width="0.8" stroke-dasharray="0.9 1.1"/>
<line x1="190.7" y1="351.53" x2="373.7" y2="351.53" stroke="#b8b8b8" stroke-width="0.8" stroke-dasharray="0.9 1.1"/>
<line x1="190.7" y1="344.81" x2="373.7" y2="344.81" stroke="#e0e0e0" stroke-width="0.8" stroke-dasharray="0.9 1.1"/>
<line x1="190.7" y1="338.08" x2="373.7" y2="338.08" stroke="#e0e0e0" stroke-width="0.8" stroke-dasharray="0.9 1.1"/>
<line x1="190.7" y1="331.35" x2="373.7" y2="331.35" stroke="#e0e0e0" stroke-width="0.8" stroke-dasharray="0.9 1.1"/>
<line x1="190.7" y1="324.63" x2="373.7" y2="324.63" stroke="#e0e0e0" stroke-width="0.8" stroke-dasharray="0.9 1.1"/>
<rect x="196.69" y="416.45" width="6.58" height="2.35" fill="#00ff00" stroke="#000" stroke-opacity="0.6" stroke-width="0.55"/>
<rect x="204.91" y="416.45" width="6.58" height="2.35" fill="#ff0000" stroke="#000" stroke-opacity="0.6" stroke-width="0.55"/>
<rect x="213.13" y="416.45" width="6.58" height="2.35" fill="#ffff00" stroke="#000" stroke-opacity="0.6" stroke-width="0.55"/>
<rect x="233.69" y="382.48" width="6.58" height="36.32" fill="#00ff00" stroke="#000" stroke-opacity="0.6" stroke-width="0.55"/>
<rect x="241.91" y="382.48" width="6.58" height="36.32" fill="#ff0000" stroke="#000" stroke-opacity="0.6" stroke-width="0.55"/>
<rect x="250.13" y="382.48" width="6.58" height="36.32" fill="#ffff00" stroke="#000" stroke-opacity="0.6" stroke-width="0.55"/>
<rect x="270.69" y="347.5" width="6.58" height="71.3" fill="#00ff00" stroke="#000" stroke-opacity="0.6" stroke-width="0.55"/>
<rect x="278.91" y="337.74" width="6.58" height="81.06" fill="#ff0000" stroke="#000" stroke-opacity="0.6" stroke-width="0.55"/>
<rect x="287.13" y="333.03" width="6.58" height="85.77" fill="#ffff00" stroke="#000" stroke-opacity="0.6" stroke-width="0.55"/>
<rect x="307.69" y="414.43" width="6.58" height="4.37" fill="#00ff00" stroke="#000" stroke-opacity="0.6" stroke-width="0.55"/>
<rect x="315.91" y="413.42" width="6.58" height="5.38" fill="#ff0000" stroke="#000" stroke-opacity="0.6" stroke-width="0.55"/>
<rect x="324.13" y="411.4" width="6.58" height="7.4" fill="#ffff00" stroke="#000" stroke-opacity="0.6" stroke-width="0.55"/>
<rect x="344.69" y="390.55" width="6.58" height="28.25" fill="#00ff00" stroke="#000" stroke-opacity="0.6" stroke-width="0.55"/>
<rect x="352.91" y="387.86" width="6.58" height="30.94" fill="#ff0000" stroke="#000" stroke-opacity="0.6" stroke-width="0.55"/>
<rect x="361.13" y="386.85" width="6.58" height="31.95" fill="#ffff00" stroke="#000" stroke-opacity="0.6" stroke-width="0.55"/>
<rect x="189.7" y="317.9" width="185" height="100.9" fill="none" stroke="#959595" stroke-width="1.2"/>
<line x1="189.7" y1="418.8" x2="191.6" y2="418.8" stroke="#959595" stroke-width="0.8"/>
<line x1="372.8" y1="418.8" x2="374.7" y2="418.8" stroke="#959595" stroke-width="0.8"/>
<line x1="189.7" y1="412.07" x2="190.8" y2="412.07" stroke="#959595" stroke-width="0.8"/>
<line x1="373.6" y1="412.07" x2="374.7" y2="412.07" stroke="#959595" stroke-width="0.8"/>
<line x1="189.7" y1="405.35" x2="190.8" y2="405.35" stroke="#959595" stroke-width="0.8"/>
<line x1="373.6" y1="405.35" x2="374.7" y2="405.35" stroke="#959595" stroke-width="0.8"/>
<line x1="189.7" y1="398.62" x2="190.8" y2="398.62" stroke="#959595" stroke-width="0.8"/>
<line x1="373.6" y1="398.62" x2="374.7" y2="398.62" stroke="#959595" stroke-width="0.8"/>
<line x1="189.7" y1="391.89" x2="190.8" y2="391.89" stroke="#959595" stroke-width="0.8"/>
<line x1="373.6" y1="391.89" x2="374.7" y2="391.89" stroke="#959595" stroke-width="0.8"/>
<line x1="189.7" y1="385.17" x2="191.6" y2="385.17" stroke="#959595" stroke-width="0.8"/>
<line x1="372.8" y1="385.17" x2="374.7" y2="385.17" stroke="#959595" stroke-width="0.8"/>
<line x1="189.7" y1="378.44" x2="190.8" y2="378.44" stroke="#959595" stroke-width="0.8"/>
<line x1="373.6" y1="378.44" x2="374.7" y2="378.44" stroke="#959595" stroke-width="0.8"/>
<line x1="189.7" y1="371.71" x2="190.8" y2="371.71" stroke="#959595" stroke-width="0.8"/>
<line x1="373.6" y1="371.71" x2="374.7" y2="371.71" stroke="#959595" stroke-width="0.8"/>
<line x1="189.7" y1="364.99" x2="190.8" y2="364.99" stroke="#959595" stroke-width="0.8"/>
<line x1="373.6" y1="364.99" x2="374.7" y2="364.99" stroke="#959595" stroke-width="0.8"/>
<line x1="189.7" y1="358.26" x2="190.8" y2="358.26" stroke="#959595" stroke-width="0.8"/>
<line x1="373.6" y1="358.26" x2="374.7" y2="358.26" stroke="#959595" stroke-width="0.8"/>
<line x1="189.7" y1="351.53" x2="191.6" y2="351.53" stroke="#959595" stroke-width="0.8"/>
<line x1="372.8" y1="351.53" x2="374.7" y2="351.53" stroke="#959595" stroke-width="0.8"/>
<line x1="189.7" y1="344.81" x2="190.8" y2="344.81" stroke="#959595" stroke-width="0.8"/>
<line x1="373.6" y1="344.81" x2="374.7" y2="344.81" stroke="#959595" stroke-width="0.8"/>
<line x1="189.7" y1="338.08" x2="190.8" y2="338.08" stroke="#959595" stroke-width="0.8"/>
<line x1="373.6" y1="338.08" x2="374.7" y2="338.08" stroke="#959595" stroke-width="0.8"/>
<line x1="189.7" y1="331.35" x2="190.8" y2="331.35" stroke="#959595" stroke-width="0.8"/>
<line x1="373.6" y1="331.35" x2="374.7" y2="331.35" stroke="#959595" stroke-width="0.8"/>
<line x1="189.7" y1="324.63" x2="190.8" y2="324.63" stroke="#959595" stroke-width="0.8"/>
<line x1="373.6" y1="324.63" x2="374.7" y2="324.63" stroke="#959595" stroke-width="0.8"/>
<line x1="189.7" y1="317.9" x2="191.6" y2="317.9" stroke="#959595" stroke-width="0.8"/>
<line x1="372.8" y1="317.9" x2="374.7" y2="317.9" stroke="#959595" stroke-width="0.8"/>
<line x1="208.2" y1="418.8" x2="208.2" y2="416.9" stroke="#959595" stroke-width="0.8"/>
<line x1="208.2" y1="317.9" x2="208.2" y2="319.8" stroke="#959595" stroke-width="0.8"/>
<line x1="245.2" y1="418.8" x2="245.2" y2="416.9" stroke="#959595" stroke-width="0.8"/>
<line x1="245.2" y1="317.9" x2="245.2" y2="319.8" stroke="#959595" stroke-width="0.8"/>
<line x1="282.2" y1="418.8" x2="282.2" y2="416.9" stroke="#959595" stroke-width="0.8"/>
<line x1="282.2" y1="317.9" x2="282.2" y2="319.8" stroke="#959595" stroke-width="0.8"/>
<line x1="319.2" y1="418.8" x2="319.2" y2="416.9" stroke="#959595" stroke-width="0.8"/>
<line x1="319.2" y1="317.9" x2="319.2" y2="319.8" stroke="#959595" stroke-width="0.8"/>
<line x1="356.2" y1="418.8" x2="356.2" y2="416.9" stroke="#959595" stroke-width="0.8"/>
<line x1="356.2" y1="317.9" x2="356.2" y2="319.8" stroke="#959595" stroke-width="0.8"/>
<text x="188.5" y="422.4" font-size="10" text-anchor="end" fill="#1a1a1a">0%</text>
<text x="188.5" y="388.77" font-size="10" text-anchor="end" fill="#1a1a1a">10%</text>
<text x="188.5" y="355.13" font-size="10" text-anchor="end" fill="#1a1a1a">20%</text>
<text x="188.5" y="321.5" font-size="10" text-anchor="end" fill="#1a1a1a">30%</text>
<text x="207.9" y="429.7" font-size="10" text-anchor="middle" fill="#1a1a1a">e1</text>
<text x="244.9" y="429.7" font-size="10" text-anchor="middle" fill="#1a1a1a">e2</text>
<text x="281.9" y="429.7" font-size="10" text-anchor="middle" fill="#1a1a1a">e3</text>
<text x="318.9" y="429.7" font-size="10" text-anchor="middle" fill="#1a1a1a">e4</text>
<text x="355.9" y="429.7" font-size="10" text-anchor="middle" fill="#1a1a1a">overall</text>
<text transform="translate(211.5 415.4) rotate(-90)" font-size="9.2" fill="#1a1a1a">(99.34%)</text>
<text transform="translate(248.5 381.4) rotate(-90)" font-size="9.2" fill="#1a1a1a">(81.08%)</text>
<text transform="translate(285.5 354.4) rotate(-90)" font-size="9.2" fill="#1a1a1a">(64.79%)</text>
<text transform="translate(322.5 412) rotate(-90)" font-size="9.2" fill="#1a1a1a">(91.95%)</text>
<text transform="translate(359.5 387.4) rotate(-90)" font-size="9.2" fill="#1a1a1a">(85.53%)</text>
<text transform="translate(214.3 311) scale(1 1.03)" font-size="11.6" fill="#1a1a1a">BN classification accuracy</text>
<text transform="translate(165.4 372.95) rotate(-90) scale(1 1.06)" font-size="10.85" text-anchor="middle" fill="#1a1a1a">Difference in accuracy</text>
<line x1="451.6" y1="414.15" x2="634.4" y2="414.15" stroke="#e0e0e0" stroke-width="0.8" stroke-dasharray="0.9 1.1"/>
<line x1="451.6" y1="410.1" x2="634.4" y2="410.1" stroke="#e0e0e0" stroke-width="0.8" stroke-dasharray="0.9 1.1"/>
<line x1="451.6" y1="406.05" x2="634.4" y2="406.05" stroke="#e0e0e0" stroke-width="0.8" stroke-dasharray="0.9 1.1"/>
<line x1="451.6" y1="402" x2="634.4" y2="402" stroke="#e0e0e0" stroke-width="0.8" stroke-dasharray="0.9 1.1"/>
<line x1="451.6" y1="397.95" x2="634.4" y2="397.95" stroke="#b8b8b8" stroke-width="0.8" stroke-dasharray="0.9 1.1"/>
<line x1="451.6" y1="393.9" x2="634.4" y2="393.9" stroke="#e0e0e0" stroke-width="0.8" stroke-dasharray="0.9 1.1"/>
<line x1="451.6" y1="389.85" x2="634.4" y2="389.85" stroke="#e0e0e0" stroke-width="0.8" stroke-dasharray="0.9 1.1"/>
<line x1="451.6" y1="385.8" x2="634.4" y2="385.8" stroke="#e0e0e0" stroke-width="0.8" stroke-dasharray="0.9 1.1"/>
<line x1="451.6" y1="381.75" x2="634.4" y2="381.75" stroke="#e0e0e0" stroke-width="0.8" stroke-dasharray="0.9 1.1"/>
<line x1="451.6" y1="377.7" x2="634.4" y2="377.7" stroke="#b8b8b8" stroke-width="0.8" stroke-dasharray="0.9 1.1"/>
<line x1="451.6" y1="373.65" x2="634.4" y2="373.65" stroke="#e0e0e0" stroke-width="0.8" stroke-dasharray="0.9 1.1"/>
<line x1="451.6" y1="369.6" x2="634.4" y2="369.6" stroke="#e0e0e0" stroke-width="0.8" stroke-dasharray="0.9 1.1"/>
<line x1="451.6" y1="365.55" x2="634.4" y2="365.55" stroke="#e0e0e0" stroke-width="0.8" stroke-dasharray="0.9 1.1"/>
<line x1="451.6" y1="361.5" x2="634.4" y2="361.5" stroke="#e0e0e0" stroke-width="0.8" stroke-dasharray="0.9 1.1"/>
<line x1="451.6" y1="357.45" x2="634.4" y2="357.45" stroke="#b8b8b8" stroke-width="0.8" stroke-dasharray="0.9 1.1"/>
<line x1="451.6" y1="353.4" x2="634.4" y2="353.4" stroke="#e0e0e0" stroke-width="0.8" stroke-dasharray="0.9 1.1"/>
<line x1="451.6" y1="349.35" x2="634.4" y2="349.35" stroke="#e0e0e0" stroke-width="0.8" stroke-dasharray="0.9 1.1"/>
<line x1="451.6" y1="345.3" x2="634.4" y2="345.3" stroke="#e0e0e0" stroke-width="0.8" stroke-dasharray="0.9 1.1"/>
<line x1="451.6" y1="341.25" x2="634.4" y2="341.25" stroke="#e0e0e0" stroke-width="0.8" stroke-dasharray="0.9 1.1"/>
<line x1="451.6" y1="337.2" x2="634.4" y2="337.2" stroke="#b8b8b8" stroke-width="0.8" stroke-dasharray="0.9 1.1"/>
<line x1="451.6" y1="333.15" x2="634.4" y2="333.15" stroke="#e0e0e0" stroke-width="0.8" stroke-dasharray="0.9 1.1"/>
<line x1="451.6" y1="329.1" x2="634.4" y2="329.1" stroke="#e0e0e0" stroke-width="0.8" stroke-dasharray="0.9 1.1"/>
<line x1="451.6" y1="325.05" x2="634.4" y2="325.05" stroke="#e0e0e0" stroke-width="0.8" stroke-dasharray="0.9 1.1"/>
<line x1="451.6" y1="321" x2="634.4" y2="321" stroke="#e0e0e0" stroke-width="0.8" stroke-dasharray="0.9 1.1"/>
<rect x="457.58" y="397.95" width="6.57" height="1.42" fill="#00ff00" stroke="#000" stroke-opacity="0.6" stroke-width="0.55"/>
<rect x="465.79" y="397.95" width="6.57" height="3.04" fill="#ff0000" stroke="#000" stroke-opacity="0.6" stroke-width="0.55"/>
<rect x="474.01" y="397.95" width="6.57" height="1.42" fill="#ffff00" stroke="#000" stroke-opacity="0.6" stroke-width="0.55"/>
<rect x="494.54" y="359.47" width="6.57" height="38.48" fill="#00ff00" stroke="#000" stroke-opacity="0.6" stroke-width="0.55"/>
<rect x="502.75" y="359.47" width="6.57" height="38.48" fill="#ff0000" stroke="#000" stroke-opacity="0.6" stroke-width="0.55"/>
<rect x="510.97" y="359.47" width="6.57" height="38.48" fill="#ffff00" stroke="#000" stroke-opacity="0.6" stroke-width="0.55"/>
<rect x="531.5" y="351.98" width="6.57" height="45.97" fill="#00ff00" stroke="#000" stroke-opacity="0.6" stroke-width="0.55"/>
<rect x="539.71" y="340.64" width="6.57" height="57.31" fill="#ff0000" stroke="#000" stroke-opacity="0.6" stroke-width="0.55"/>
<rect x="547.93" y="352.39" width="6.57" height="45.56" fill="#ffff00" stroke="#000" stroke-opacity="0.6" stroke-width="0.55"/>
<rect x="568.46" y="397.95" width="6.57" height="3.64" fill="#00ff00" stroke="#000" stroke-opacity="0.6" stroke-width="0.55"/>
<rect x="576.67" y="397.95" width="6.57" height="8.1" fill="#ff0000" stroke="#000" stroke-opacity="0.6" stroke-width="0.55"/>
<rect x="584.89" y="397.95" width="6.57" height="18.43" fill="#ffff00" stroke="#000" stroke-opacity="0.6" stroke-width="0.55"/>
<rect x="605.42" y="381.75" width="6.57" height="16.2" fill="#00ff00" stroke="#000" stroke-opacity="0.6" stroke-width="0.55"/>
<rect x="613.63" y="382.36" width="6.57" height="15.59" fill="#ff0000" stroke="#000" stroke-opacity="0.6" stroke-width="0.55"/>
<rect x="621.85" y="388.03" width="6.57" height="9.92" fill="#ffff00" stroke="#000" stroke-opacity="0.6" stroke-width="0.55"/>
<line x1="450.6" y1="397.95" x2="635.4" y2="397.95" stroke="#707070" stroke-width="0.75"/>
<rect x="450.6" y="316.95" width="184.8" height="101.25" fill="none" stroke="#959595" stroke-width="1.2"/>
<line x1="450.6" y1="418.2" x2="452.5" y2="418.2" stroke="#959595" stroke-width="0.8"/>
<line x1="633.5" y1="418.2" x2="635.4" y2="418.2" stroke="#959595" stroke-width="0.8"/>
<line x1="450.6" y1="414.15" x2="451.7" y2="414.15" stroke="#959595" stroke-width="0.8"/>
<line x1="634.3" y1="414.15" x2="635.4" y2="414.15" stroke="#959595" stroke-width="0.8"/>
<line x1="450.6" y1="410.1" x2="451.7" y2="410.1" stroke="#959595" stroke-width="0.8"/>
<line x1="634.3" y1="410.1" x2="635.4" y2="410.1" stroke="#959595" stroke-width="0.8"/>
<line x1="450.6" y1="406.05" x2="451.7" y2="406.05" stroke="#959595" stroke-width="0.8"/>
<line x1="634.3" y1="406.05" x2="635.4" y2="406.05" stroke="#959595" stroke-width="0.8"/>
<line x1="450.6" y1="402" x2="451.7" y2="402" stroke="#959595" stroke-width="0.8"/>
<line x1="634.3" y1="402" x2="635.4" y2="402" stroke="#959595" stroke-width="0.8"/>
<line x1="450.6" y1="397.95" x2="452.5" y2="397.95" stroke="#959595" stroke-width="0.8"/>
<line x1="633.5" y1="397.95" x2="635.4" y2="397.95" stroke="#959595" stroke-width="0.8"/>
<line x1="450.6" y1="393.9" x2="451.7" y2="393.9" stroke="#959595" stroke-width="0.8"/>
<line x1="634.3" y1="393.9" x2="635.4" y2="393.9" stroke="#959595" stroke-width="0.8"/>
<line x1="450.6" y1="389.85" x2="451.7" y2="389.85" stroke="#959595" stroke-width="0.8"/>
<line x1="634.3" y1="389.85" x2="635.4" y2="389.85" stroke="#959595" stroke-width="0.8"/>
<line x1="450.6" y1="385.8" x2="451.7" y2="385.8" stroke="#959595" stroke-width="0.8"/>
<line x1="634.3" y1="385.8" x2="635.4" y2="385.8" stroke="#959595" stroke-width="0.8"/>
<line x1="450.6" y1="381.75" x2="451.7" y2="381.75" stroke="#959595" stroke-width="0.8"/>
<line x1="634.3" y1="381.75" x2="635.4" y2="381.75" stroke="#959595" stroke-width="0.8"/>
<line x1="450.6" y1="377.7" x2="452.5" y2="377.7" stroke="#959595" stroke-width="0.8"/>
<line x1="633.5" y1="377.7" x2="635.4" y2="377.7" stroke="#959595" stroke-width="0.8"/>
<line x1="450.6" y1="373.65" x2="451.7" y2="373.65" stroke="#959595" stroke-width="0.8"/>
<line x1="634.3" y1="373.65" x2="635.4" y2="373.65" stroke="#959595" stroke-width="0.8"/>
<line x1="450.6" y1="369.6" x2="451.7" y2="369.6" stroke="#959595" stroke-width="0.8"/>
<line x1="634.3" y1="369.6" x2="635.4" y2="369.6" stroke="#959595" stroke-width="0.8"/>
<line x1="450.6" y1="365.55" x2="451.7" y2="365.55" stroke="#959595" stroke-width="0.8"/>
<line x1="634.3" y1="365.55" x2="635.4" y2="365.55" stroke="#959595" stroke-width="0.8"/>
<line x1="450.6" y1="361.5" x2="451.7" y2="361.5" stroke="#959595" stroke-width="0.8"/>
<line x1="634.3" y1="361.5" x2="635.4" y2="361.5" stroke="#959595" stroke-width="0.8"/>
<line x1="450.6" y1="357.45" x2="452.5" y2="357.45" stroke="#959595" stroke-width="0.8"/>
<line x1="633.5" y1="357.45" x2="635.4" y2="357.45" stroke="#959595" stroke-width="0.8"/>
<line x1="450.6" y1="353.4" x2="451.7" y2="353.4" stroke="#959595" stroke-width="0.8"/>
<line x1="634.3" y1="353.4" x2="635.4" y2="353.4" stroke="#959595" stroke-width="0.8"/>
<line x1="450.6" y1="349.35" x2="451.7" y2="349.35" stroke="#959595" stroke-width="0.8"/>
<line x1="634.3" y1="349.35" x2="635.4" y2="349.35" stroke="#959595" stroke-width="0.8"/>
<line x1="450.6" y1="345.3" x2="451.7" y2="345.3" stroke="#959595" stroke-width="0.8"/>
<line x1="634.3" y1="345.3" x2="635.4" y2="345.3" stroke="#959595" stroke-width="0.8"/>
<line x1="450.6" y1="341.25" x2="451.7" y2="341.25" stroke="#959595" stroke-width="0.8"/>
<line x1="634.3" y1="341.25" x2="635.4" y2="341.25" stroke="#959595" stroke-width="0.8"/>
<line x1="450.6" y1="337.2" x2="452.5" y2="337.2" stroke="#959595" stroke-width="0.8"/>
<line x1="633.5" y1="337.2" x2="635.4" y2="337.2" stroke="#959595" stroke-width="0.8"/>
<line x1="450.6" y1="333.15" x2="451.7" y2="333.15" stroke="#959595" stroke-width="0.8"/>
<line x1="634.3" y1="333.15" x2="635.4" y2="333.15" stroke="#959595" stroke-width="0.8"/>
<line x1="450.6" y1="329.1" x2="451.7" y2="329.1" stroke="#959595" stroke-width="0.8"/>
<line x1="634.3" y1="329.1" x2="635.4" y2="329.1" stroke="#959595" stroke-width="0.8"/>
<line x1="450.6" y1="325.05" x2="451.7" y2="325.05" stroke="#959595" stroke-width="0.8"/>
<line x1="634.3" y1="325.05" x2="635.4" y2="325.05" stroke="#959595" stroke-width="0.8"/>
<line x1="450.6" y1="321" x2="451.7" y2="321" stroke="#959595" stroke-width="0.8"/>
<line x1="634.3" y1="321" x2="635.4" y2="321" stroke="#959595" stroke-width="0.8"/>
<line x1="450.6" y1="316.95" x2="452.5" y2="316.95" stroke="#959595" stroke-width="0.8"/>
<line x1="633.5" y1="316.95" x2="635.4" y2="316.95" stroke="#959595" stroke-width="0.8"/>
<line x1="469.08" y1="418.2" x2="469.08" y2="416.3" stroke="#959595" stroke-width="0.8"/>
<line x1="469.08" y1="316.95" x2="469.08" y2="318.85" stroke="#959595" stroke-width="0.8"/>
<line x1="506.04" y1="418.2" x2="506.04" y2="416.3" stroke="#959595" stroke-width="0.8"/>
<line x1="506.04" y1="316.95" x2="506.04" y2="318.85" stroke="#959595" stroke-width="0.8"/>
<line x1="543" y1="418.2" x2="543" y2="416.3" stroke="#959595" stroke-width="0.8"/>
<line x1="543" y1="316.95" x2="543" y2="318.85" stroke="#959595" stroke-width="0.8"/>
<line x1="579.96" y1="418.2" x2="579.96" y2="416.3" stroke="#959595" stroke-width="0.8"/>
<line x1="579.96" y1="316.95" x2="579.96" y2="318.85" stroke="#959595" stroke-width="0.8"/>
<line x1="616.92" y1="418.2" x2="616.92" y2="416.3" stroke="#959595" stroke-width="0.8"/>
<line x1="616.92" y1="316.95" x2="616.92" y2="318.85" stroke="#959595" stroke-width="0.8"/>
<text x="449.4" y="421.8" font-size="10" text-anchor="end" fill="#1a1a1a">10%</text>
<rect x="424.69" y="419.18" width="4.2" height="0.85" fill="#1a1a1a"/>
<text x="449.4" y="401.55" font-size="10" text-anchor="end" fill="#1a1a1a">0%</text>
<text x="449.4" y="381.3" font-size="10" text-anchor="end" fill="#1a1a1a">10%</text>
<text x="449.4" y="361.05" font-size="10" text-anchor="end" fill="#1a1a1a">20%</text>
<text x="449.4" y="340.8" font-size="10" text-anchor="end" fill="#1a1a1a">30%</text>
<text x="449.4" y="320.55" font-size="10" text-anchor="end" fill="#1a1a1a">40%</text>
<text x="468.78" y="429.1" font-size="10" text-anchor="middle" fill="#1a1a1a">e1</text>
<text x="505.74" y="429.1" font-size="10" text-anchor="middle" fill="#1a1a1a">e2</text>
<text x="542.7" y="429.1" font-size="10" text-anchor="middle" fill="#1a1a1a">e3</text>
<text x="579.66" y="429.1" font-size="10" text-anchor="middle" fill="#1a1a1a">e4</text>
<text x="616.62" y="429.1" font-size="10" text-anchor="middle" fill="#1a1a1a">overall</text>
<text transform="translate(472.38 398.4) rotate(-90)" font-size="9.2" fill="#1a1a1a">(99.34%)</text>
<text transform="translate(509.34 359) rotate(-90)" font-size="9.2" fill="#1a1a1a">(81.08%)</text>
<text transform="translate(546.3 354.4) rotate(-90)" font-size="9.2" fill="#1a1a1a">(64.79%)</text>
<text transform="translate(583.26 397.8) rotate(-90)" font-size="9.2" fill="#1a1a1a">(91.95%)</text>
<text transform="translate(620.22 382.4) rotate(-90)" font-size="9.2" fill="#1a1a1a">(85.53%)</text>
<text transform="translate(474.3 311.6) scale(1 1.03)" font-size="11.6" fill="#1a1a1a">SVM classification accuracy</text>
<line x1="190.6" y1="555.92" x2="373.2" y2="555.92" stroke="#e0e0e0" stroke-width="0.8" stroke-dasharray="0.9 1.1"/>
<line x1="190.6" y1="551.84" x2="373.2" y2="551.84" stroke="#e0e0e0" stroke-width="0.8" stroke-dasharray="0.9 1.1"/>
<line x1="190.6" y1="547.76" x2="373.2" y2="547.76" stroke="#e0e0e0" stroke-width="0.8" stroke-dasharray="0.9 1.1"/>
<line x1="190.6" y1="543.68" x2="373.2" y2="543.68" stroke="#e0e0e0" stroke-width="0.8" stroke-dasharray="0.9 1.1"/>
<line x1="190.6" y1="539.6" x2="373.2" y2="539.6" stroke="#b8b8b8" stroke-width="0.8" stroke-dasharray="0.9 1.1"/>
<line x1="190.6" y1="535.52" x2="373.2" y2="535.52" stroke="#e0e0e0" stroke-width="0.8" stroke-dasharray="0.9 1.1"/>
<line x1="190.6" y1="531.44" x2="373.2" y2="531.44" stroke="#e0e0e0" stroke-width="0.8" stroke-dasharray="0.9 1.1"/>
<line x1="190.6" y1="527.36" x2="373.2" y2="527.36" stroke="#e0e0e0" stroke-width="0.8" stroke-dasharray="0.9 1.1"/>
<line x1="190.6" y1="523.28" x2="373.2" y2="523.28" stroke="#e0e0e0" stroke-width="0.8" stroke-dasharray="0.9 1.1"/>
<line x1="190.6" y1="519.2" x2="373.2" y2="519.2" stroke="#b8b8b8" stroke-width="0.8" stroke-dasharray="0.9 1.1"/>
<line x1="190.6" y1="515.12" x2="373.2" y2="515.12" stroke="#e0e0e0" stroke-width="0.8" stroke-dasharray="0.9 1.1"/>
<line x1="190.6" y1="511.04" x2="373.2" y2="511.04" stroke="#e0e0e0" stroke-width="0.8" stroke-dasharray="0.9 1.1"/>
<line x1="190.6" y1="506.96" x2="373.2" y2="506.96" stroke="#e0e0e0" stroke-width="0.8" stroke-dasharray="0.9 1.1"/>
<line x1="190.6" y1="502.88" x2="373.2" y2="502.88" stroke="#e0e0e0" stroke-width="0.8" stroke-dasharray="0.9 1.1"/>
<line x1="190.6" y1="498.8" x2="373.2" y2="498.8" stroke="#b8b8b8" stroke-width="0.8" stroke-dasharray="0.9 1.1"/>
<line x1="190.6" y1="494.72" x2="373.2" y2="494.72" stroke="#e0e0e0" stroke-width="0.8" stroke-dasharray="0.9 1.1"/>
<line x1="190.6" y1="490.64" x2="373.2" y2="490.64" stroke="#e0e0e0" stroke-width="0.8" stroke-dasharray="0.9 1.1"/>
<line x1="190.6" y1="486.56" x2="373.2" y2="486.56" stroke="#e0e0e0" stroke-width="0.8" stroke-dasharray="0.9 1.1"/>
<line x1="190.6" y1="482.48" x2="373.2" y2="482.48" stroke="#e0e0e0" stroke-width="0.8" stroke-dasharray="0.9 1.1"/>
<line x1="190.6" y1="478.4" x2="373.2" y2="478.4" stroke="#b8b8b8" stroke-width="0.8" stroke-dasharray="0.9 1.1"/>
<line x1="190.6" y1="474.32" x2="373.2" y2="474.32" stroke="#e0e0e0" stroke-width="0.8" stroke-dasharray="0.9 1.1"/>
<line x1="190.6" y1="470.24" x2="373.2" y2="470.24" stroke="#e0e0e0" stroke-width="0.8" stroke-dasharray="0.9 1.1"/>
<line x1="190.6" y1="466.16" x2="373.2" y2="466.16" stroke="#e0e0e0" stroke-width="0.8" stroke-dasharray="0.9 1.1"/>
<line x1="190.6" y1="462.08" x2="373.2" y2="462.08" stroke="#e0e0e0" stroke-width="0.8" stroke-dasharray="0.9 1.1"/>
<rect x="193.09" y="524.5" width="3.28" height="15.1" fill="#00ff00" stroke="#000" stroke-opacity="0.6" stroke-width="0.55"/>
<rect x="197.19" y="522.36" width="3.28" height="17.24" fill="#ff0000" stroke="#000" stroke-opacity="0.6" stroke-width="0.55"/>
<rect x="201.29" y="522.46" width="3.28" height="17.14" fill="#ffff00" stroke="#000" stroke-opacity="0.6" stroke-width="0.55"/>
<rect x="211.55" y="538.58" width="3.28" height="1.02" fill="#00ff00" stroke="#000" stroke-opacity="0.6" stroke-width="0.55"/>
<rect x="215.65" y="538.58" width="3.28" height="1.02" fill="#ff0000" stroke="#000" stroke-opacity="0.6" stroke-width="0.55"/>
<rect x="219.75" y="538.58" width="3.28" height="1.02" fill="#ffff00" stroke="#000" stroke-opacity="0.6" stroke-width="0.55"/>
<rect x="230.01" y="512.26" width="3.28" height="27.34" fill="#00ff00" stroke="#000" stroke-opacity="0.6" stroke-width="0.55"/>
<rect x="234.11" y="512.26" width="3.28" height="27.34" fill="#ff0000" stroke="#000" stroke-opacity="0.6" stroke-width="0.55"/>
<rect x="238.21" y="512.26" width="3.28" height="27.34" fill="#ffff00" stroke="#000" stroke-opacity="0.6" stroke-width="0.55"/>
<rect x="248.47" y="496.15" width="3.28" height="43.45" fill="#00ff00" stroke="#000" stroke-opacity="0.6" stroke-width="0.55"/>
<rect x="252.57" y="485.34" width="3.28" height="54.26" fill="#ff0000" stroke="#000" stroke-opacity="0.6" stroke-width="0.55"/>
<rect x="256.67" y="496.56" width="3.28" height="43.04" fill="#ffff00" stroke="#000" stroke-opacity="0.6" stroke-width="0.55"/>
<rect x="266.93" y="507.98" width="3.28" height="31.62" fill="#00ff00" stroke="#000" stroke-opacity="0.6" stroke-width="0.55"/>
<rect x="271.03" y="507.98" width="3.28" height="31.62" fill="#ff0000" stroke="#000" stroke-opacity="0.6" stroke-width="0.55"/>
<rect x="275.13" y="507.57" width="3.28" height="32.03" fill="#ffff00" stroke="#000" stroke-opacity="0.6" stroke-width="0.55"/>
<rect x="285.39" y="511.65" width="3.28" height="27.95" fill="#00ff00" stroke="#000" stroke-opacity="0.6" stroke-width="0.55"/>
<rect x="289.49" y="513.28" width="3.28" height="26.32" fill="#ff0000" stroke="#000" stroke-opacity="0.6" stroke-width="0.55"/>
<rect x="293.59" y="511.65" width="3.28" height="27.95" fill="#ffff00" stroke="#000" stroke-opacity="0.6" stroke-width="0.55"/>
<rect x="303.85" y="539.6" width="3.28" height="14.48" fill="#00ff00" stroke="#000" stroke-opacity="0.6" stroke-width="0.55"/>
<rect x="307.95" y="539.6" width="3.28" height="10.2" fill="#ff0000" stroke="#000" stroke-opacity="0.6" stroke-width="0.55"/>
<rect x="312.05" y="539.6" width="3.28" height="6.94" fill="#ffff00" stroke="#000" stroke-opacity="0.6" stroke-width="0.55"/>
<rect x="322.31" y="510.43" width="3.28" height="29.17" fill="#00ff00" stroke="#000" stroke-opacity="0.6" stroke-width="0.55"/>
<rect x="326.41" y="500.84" width="3.28" height="38.76" fill="#ff0000" stroke="#000" stroke-opacity="0.6" stroke-width="0.55"/>
<rect x="330.51" y="490.84" width="3.28" height="48.76" fill="#ffff00" stroke="#000" stroke-opacity="0.6" stroke-width="0.55"/>
<rect x="340.77" y="513.28" width="3.28" height="26.32" fill="#00ff00" stroke="#000" stroke-opacity="0.6" stroke-width="0.55"/>
<rect x="344.87" y="513.28" width="3.28" height="26.32" fill="#ff0000" stroke="#000" stroke-opacity="0.6" stroke-width="0.55"/>
<rect x="348.97" y="510.63" width="3.28" height="28.97" fill="#ffff00" stroke="#000" stroke-opacity="0.6" stroke-width="0.55"/>
<rect x="359.23" y="507.57" width="3.28" height="32.03" fill="#00ff00" stroke="#000" stroke-opacity="0.6" stroke-width="0.55"/>
<rect x="363.33" y="506.55" width="3.28" height="33.05" fill="#ff0000" stroke="#000" stroke-opacity="0.6" stroke-width="0.55"/>
<rect x="367.43" y="505.33" width="3.28" height="34.27" fill="#ffff00" stroke="#000" stroke-opacity="0.6" stroke-width="0.55"/>
<line x1="189.6" y1="539.6" x2="374.2" y2="539.6" stroke="#707070" stroke-width="0.75"/>
<rect x="189.6" y="458" width="184.6" height="102" fill="none" stroke="#959595" stroke-width="1.2"/>
<line x1="189.6" y1="560" x2="191.5" y2="560" stroke="#959595" stroke-width="0.8"/>
<line x1="372.3" y1="560" x2="374.2" y2="560" stroke="#959595" stroke-width="0.8"/>
<line x1="189.6" y1="555.92" x2="190.7" y2="555.92" stroke="#959595" stroke-width="0.8"/>
<line x1="373.1" y1="555.92" x2="374.2" y2="555.92" stroke="#959595" stroke-width="0.8"/>
<line x1="189.6" y1="551.84" x2="190.7" y2="551.84" stroke="#959595" stroke-width="0.8"/>
<line x1="373.1" y1="551.84" x2="374.2" y2="551.84" stroke="#959595" stroke-width="0.8"/>
<line x1="189.6" y1="547.76" x2="190.7" y2="547.76" stroke="#959595" stroke-width="0.8"/>
<line x1="373.1" y1="547.76" x2="374.2" y2="547.76" stroke="#959595" stroke-width="0.8"/>
<line x1="189.6" y1="543.68" x2="190.7" y2="543.68" stroke="#959595" stroke-width="0.8"/>
<line x1="373.1" y1="543.68" x2="374.2" y2="543.68" stroke="#959595" stroke-width="0.8"/>
<line x1="189.6" y1="539.6" x2="191.5" y2="539.6" stroke="#959595" stroke-width="0.8"/>
<line x1="372.3" y1="539.6" x2="374.2" y2="539.6" stroke="#959595" stroke-width="0.8"/>
<line x1="189.6" y1="535.52" x2="190.7" y2="535.52" stroke="#959595" stroke-width="0.8"/>
<line x1="373.1" y1="535.52" x2="374.2" y2="535.52" stroke="#959595" stroke-width="0.8"/>
<line x1="189.6" y1="531.44" x2="190.7" y2="531.44" stroke="#959595" stroke-width="0.8"/>
<line x1="373.1" y1="531.44" x2="374.2" y2="531.44" stroke="#959595" stroke-width="0.8"/>
<line x1="189.6" y1="527.36" x2="190.7" y2="527.36" stroke="#959595" stroke-width="0.8"/>
<line x1="373.1" y1="527.36" x2="374.2" y2="527.36" stroke="#959595" stroke-width="0.8"/>
<line x1="189.6" y1="523.28" x2="190.7" y2="523.28" stroke="#959595" stroke-width="0.8"/>
<line x1="373.1" y1="523.28" x2="374.2" y2="523.28" stroke="#959595" stroke-width="0.8"/>
<line x1="189.6" y1="519.2" x2="191.5" y2="519.2" stroke="#959595" stroke-width="0.8"/>
<line x1="372.3" y1="519.2" x2="374.2" y2="519.2" stroke="#959595" stroke-width="0.8"/>
<line x1="189.6" y1="515.12" x2="190.7" y2="515.12" stroke="#959595" stroke-width="0.8"/>
<line x1="373.1" y1="515.12" x2="374.2" y2="515.12" stroke="#959595" stroke-width="0.8"/>
<line x1="189.6" y1="511.04" x2="190.7" y2="511.04" stroke="#959595" stroke-width="0.8"/>
<line x1="373.1" y1="511.04" x2="374.2" y2="511.04" stroke="#959595" stroke-width="0.8"/>
<line x1="189.6" y1="506.96" x2="190.7" y2="506.96" stroke="#959595" stroke-width="0.8"/>
<line x1="373.1" y1="506.96" x2="374.2" y2="506.96" stroke="#959595" stroke-width="0.8"/>
<line x1="189.6" y1="502.88" x2="190.7" y2="502.88" stroke="#959595" stroke-width="0.8"/>
<line x1="373.1" y1="502.88" x2="374.2" y2="502.88" stroke="#959595" stroke-width="0.8"/>
<line x1="189.6" y1="498.8" x2="191.5" y2="498.8" stroke="#959595" stroke-width="0.8"/>
<line x1="372.3" y1="498.8" x2="374.2" y2="498.8" stroke="#959595" stroke-width="0.8"/>
<line x1="189.6" y1="494.72" x2="190.7" y2="494.72" stroke="#959595" stroke-width="0.8"/>
<line x1="373.1" y1="494.72" x2="374.2" y2="494.72" stroke="#959595" stroke-width="0.8"/>
<line x1="189.6" y1="490.64" x2="190.7" y2="490.64" stroke="#959595" stroke-width="0.8"/>
<line x1="373.1" y1="490.64" x2="374.2" y2="490.64" stroke="#959595" stroke-width="0.8"/>
<line x1="189.6" y1="486.56" x2="190.7" y2="486.56" stroke="#959595" stroke-width="0.8"/>
<line x1="373.1" y1="486.56" x2="374.2" y2="486.56" stroke="#959595" stroke-width="0.8"/>
<line x1="189.6" y1="482.48" x2="190.7" y2="482.48" stroke="#959595" stroke-width="0.8"/>
<line x1="373.1" y1="482.48" x2="374.2" y2="482.48" stroke="#959595" stroke-width="0.8"/>
<line x1="189.6" y1="478.4" x2="191.5" y2="478.4" stroke="#959595" stroke-width="0.8"/>
<line x1="372.3" y1="478.4" x2="374.2" y2="478.4" stroke="#959595" stroke-width="0.8"/>
<line x1="189.6" y1="474.32" x2="190.7" y2="474.32" stroke="#959595" stroke-width="0.8"/>
<line x1="373.1" y1="474.32" x2="374.2" y2="474.32" stroke="#959595" stroke-width="0.8"/>
<line x1="189.6" y1="470.24" x2="190.7" y2="470.24" stroke="#959595" stroke-width="0.8"/>
<line x1="373.1" y1="470.24" x2="374.2" y2="470.24" stroke="#959595" stroke-width="0.8"/>
<line x1="189.6" y1="466.16" x2="190.7" y2="466.16" stroke="#959595" stroke-width="0.8"/>
<line x1="373.1" y1="466.16" x2="374.2" y2="466.16" stroke="#959595" stroke-width="0.8"/>
<line x1="189.6" y1="462.08" x2="190.7" y2="462.08" stroke="#959595" stroke-width="0.8"/>
<line x1="373.1" y1="462.08" x2="374.2" y2="462.08" stroke="#959595" stroke-width="0.8"/>
<line x1="189.6" y1="458" x2="191.5" y2="458" stroke="#959595" stroke-width="0.8"/>
<line x1="372.3" y1="458" x2="374.2" y2="458" stroke="#959595" stroke-width="0.8"/>
<line x1="198.83" y1="560" x2="198.83" y2="558.1" stroke="#959595" stroke-width="0.8"/>
<line x1="198.83" y1="458" x2="198.83" y2="459.9" stroke="#959595" stroke-width="0.8"/>
<line x1="217.29" y1="560" x2="217.29" y2="558.1" stroke="#959595" stroke-width="0.8"/>
<line x1="217.29" y1="458" x2="217.29" y2="459.9" stroke="#959595" stroke-width="0.8"/>
<line x1="235.75" y1="560" x2="235.75" y2="558.1" stroke="#959595" stroke-width="0.8"/>
<line x1="235.75" y1="458" x2="235.75" y2="459.9" stroke="#959595" stroke-width="0.8"/>
<line x1="254.21" y1="560" x2="254.21" y2="558.1" stroke="#959595" stroke-width="0.8"/>
<line x1="254.21" y1="458" x2="254.21" y2="459.9" stroke="#959595" stroke-width="0.8"/>
<line x1="272.67" y1="560" x2="272.67" y2="558.1" stroke="#959595" stroke-width="0.8"/>
<line x1="272.67" y1="458" x2="272.67" y2="459.9" stroke="#959595" stroke-width="0.8"/>
<line x1="291.13" y1="560" x2="291.13" y2="558.1" stroke="#959595" stroke-width="0.8"/>
<line x1="291.13" y1="458" x2="291.13" y2="459.9" stroke="#959595" stroke-width="0.8"/>
<line x1="309.59" y1="560" x2="309.59" y2="558.1" stroke="#959595" stroke-width="0.8"/>
<line x1="309.59" y1="458" x2="309.59" y2="459.9" stroke="#959595" stroke-width="0.8"/>
<line x1="328.05" y1="560" x2="328.05" y2="558.1" stroke="#959595" stroke-width="0.8"/>
<line x1="328.05" y1="458" x2="328.05" y2="459.9" stroke="#959595" stroke-width="0.8"/>
<line x1="346.51" y1="560" x2="346.51" y2="558.1" stroke="#959595" stroke-width="0.8"/>
<line x1="346.51" y1="458" x2="346.51" y2="459.9" stroke="#959595" stroke-width="0.8"/>
<line x1="364.97" y1="560" x2="364.97" y2="558.1" stroke="#959595" stroke-width="0.8"/>
<line x1="364.97" y1="458" x2="364.97" y2="459.9" stroke="#959595" stroke-width="0.8"/>
<text x="188.4" y="563.6" font-size="10" text-anchor="end" fill="#1a1a1a">10%</text>
<rect x="163.69" y="560.98" width="4.2" height="0.85" fill="#1a1a1a"/>
<text x="188.4" y="543.2" font-size="10" text-anchor="end" fill="#1a1a1a">0%</text>
<text x="188.4" y="522.8" font-size="10" text-anchor="end" fill="#1a1a1a">10%</text>
<text x="188.4" y="502.4" font-size="10" text-anchor="end" fill="#1a1a1a">20%</text>
<text x="188.4" y="482" font-size="10" text-anchor="end" fill="#1a1a1a">30%</text>
<text x="188.4" y="461.6" font-size="10" text-anchor="end" fill="#1a1a1a">40%</text>
<text x="198.53" y="570.9" font-size="10" text-anchor="middle" fill="#1a1a1a">e1</text>
<text x="216.99" y="570.9" font-size="10" text-anchor="middle" fill="#1a1a1a">e2</text>
<text x="235.45" y="570.9" font-size="10" text-anchor="middle" fill="#1a1a1a">e3</text>
<text x="253.91" y="570.9" font-size="10" text-anchor="middle" fill="#1a1a1a">e4</text>
<text x="272.37" y="570.9" font-size="10" text-anchor="middle" fill="#1a1a1a">e5</text>
<text x="290.83" y="570.9" font-size="10" text-anchor="middle" fill="#1a1a1a">e6</text>
<text x="309.29" y="570.9" font-size="10" text-anchor="middle" fill="#1a1a1a">e7</text>
<text x="327.75" y="570.9" font-size="10" text-anchor="middle" fill="#1a1a1a">e8</text>
<text x="341.81" y="570.9" font-size="10" text-anchor="middle" fill="#1a1a1a">e9</text>
<text x="362.97" y="570.9" font-size="10" text-anchor="middle" fill="#1a1a1a">overall</text>
<text transform="translate(202.1 521.8) rotate(-90)" font-size="9.2" fill="#1a1a1a">(88.52%)</text>
<text transform="translate(220.5 537.8) rotate(-90)" font-size="9.2" fill="#1a1a1a">(88.24%)</text>
<text transform="translate(238.7 512.1) rotate(-90)" font-size="9.2" fill="#1a1a1a">(83.33%)</text>
<text transform="translate(251.7 496.1) rotate(-90)" font-size="9.2" fill="#1a1a1a">(57.89%)</text>
<text transform="translate(275.2 507.9) rotate(-90)" font-size="9.2" fill="#1a1a1a">(78.87%)</text>
<text transform="translate(294 512.1) rotate(-90)" font-size="9.2" fill="#1a1a1a">(80.85%)</text>
<text transform="translate(312.4 538.9) rotate(-90)" font-size="9.2" fill="#1a1a1a">(63.16%)</text>
<text transform="translate(329.1 500.4) rotate(-90)" font-size="9.2" fill="#1a1a1a">(71.43%)</text>
<text transform="translate(348.8 512.1) rotate(-90)" font-size="9.2" fill="#1a1a1a">(63.64%)</text>
<text transform="translate(368.3 506.4) rotate(-90)" font-size="9.2" fill="#1a1a1a">(71.56%)</text>
<text transform="translate(214.3 452.7) scale(1 1.03)" font-size="11.6" fill="#1a1a1a">BN classification accuracy</text>
<text transform="translate(165.4 513.6) rotate(-90) scale(1 1.06)" font-size="10.85" text-anchor="middle" fill="#1a1a1a">Difference in accuracy</text>
<line x1="452" y1="552.51" x2="633.6" y2="552.51" stroke="#e0e0e0" stroke-width="0.8" stroke-dasharray="0.9 1.1"/>
<line x1="452" y1="545.21" x2="633.6" y2="545.21" stroke="#b8b8b8" stroke-width="0.8" stroke-dasharray="0.9 1.1"/>
<line x1="452" y1="537.92" x2="633.6" y2="537.92" stroke="#e0e0e0" stroke-width="0.8" stroke-dasharray="0.9 1.1"/>
<line x1="452" y1="530.63" x2="633.6" y2="530.63" stroke="#b8b8b8" stroke-width="0.8" stroke-dasharray="0.9 1.1"/>
<line x1="452" y1="523.34" x2="633.6" y2="523.34" stroke="#e0e0e0" stroke-width="0.8" stroke-dasharray="0.9 1.1"/>
<line x1="452" y1="516.04" x2="633.6" y2="516.04" stroke="#b8b8b8" stroke-width="0.8" stroke-dasharray="0.9 1.1"/>
<line x1="452" y1="508.75" x2="633.6" y2="508.75" stroke="#e0e0e0" stroke-width="0.8" stroke-dasharray="0.9 1.1"/>
<line x1="452" y1="501.46" x2="633.6" y2="501.46" stroke="#b8b8b8" stroke-width="0.8" stroke-dasharray="0.9 1.1"/>
<line x1="452" y1="494.16" x2="633.6" y2="494.16" stroke="#e0e0e0" stroke-width="0.8" stroke-dasharray="0.9 1.1"/>
<line x1="452" y1="486.87" x2="633.6" y2="486.87" stroke="#b8b8b8" stroke-width="0.8" stroke-dasharray="0.9 1.1"/>
<line x1="452" y1="479.58" x2="633.6" y2="479.58" stroke="#e0e0e0" stroke-width="0.8" stroke-dasharray="0.9 1.1"/>
<line x1="452" y1="472.29" x2="633.6" y2="472.29" stroke="#b8b8b8" stroke-width="0.8" stroke-dasharray="0.9 1.1"/>
<line x1="452" y1="464.99" x2="633.6" y2="464.99" stroke="#e0e0e0" stroke-width="0.8" stroke-dasharray="0.9 1.1"/>
<rect x="454.47" y="493.58" width="3.26" height="7.88" fill="#00ff00" stroke="#000" stroke-opacity="0.6" stroke-width="0.55"/>
<rect x="458.55" y="497.66" width="3.26" height="3.79" fill="#ff0000" stroke="#000" stroke-opacity="0.6" stroke-width="0.55"/>
<rect x="462.63" y="496.13" width="3.26" height="5.32" fill="#ffff00" stroke="#000" stroke-opacity="0.6" stroke-width="0.55"/>
<rect x="472.83" y="501.46" width="3.26" height="39.02" fill="#00ff00" stroke="#000" stroke-opacity="0.6" stroke-width="0.55"/>
<rect x="476.91" y="501.46" width="3.26" height="22.1" fill="#ff0000" stroke="#000" stroke-opacity="0.6" stroke-width="0.55"/>
<rect x="480.99" y="501.46" width="3.26" height="39.02" fill="#ffff00" stroke="#000" stroke-opacity="0.6" stroke-width="0.55"/>
<rect x="491.19" y="492.92" width="3.26" height="8.53" fill="#00ff00" stroke="#000" stroke-opacity="0.6" stroke-width="0.55"/>
<rect x="495.27" y="492.92" width="3.26" height="8.53" fill="#ff0000" stroke="#000" stroke-opacity="0.6" stroke-width="0.55"/>
<rect x="499.35" y="492.92" width="3.26" height="8.53" fill="#ffff00" stroke="#000" stroke-opacity="0.6" stroke-width="0.55"/>
<rect x="509.55" y="482.28" width="3.26" height="19.18" fill="#00ff00" stroke="#000" stroke-opacity="0.6" stroke-width="0.55"/>
<rect x="513.63" y="478.34" width="3.26" height="23.12" fill="#ff0000" stroke="#000" stroke-opacity="0.6" stroke-width="0.55"/>
<rect x="517.71" y="478.34" width="3.26" height="23.12" fill="#ffff00" stroke="#000" stroke-opacity="0.6" stroke-width="0.55"/>
<rect x="527.91" y="498.25" width="3.26" height="3.21" fill="#00ff00" stroke="#000" stroke-opacity="0.6" stroke-width="0.55"/>
<rect x="531.99" y="494.46" width="3.26" height="7" fill="#ff0000" stroke="#000" stroke-opacity="0.6" stroke-width="0.55"/>
<rect x="536.07" y="501.09" width="3.26" height="0.36" fill="#ffff00" stroke="#000" stroke-opacity="0.6" stroke-width="0.55"/>
<rect x="546.27" y="492.27" width="3.26" height="9.19" fill="#00ff00" stroke="#000" stroke-opacity="0.6" stroke-width="0.55"/>
<rect x="550.35" y="492.27" width="3.26" height="9.19" fill="#ff0000" stroke="#000" stroke-opacity="0.6" stroke-width="0.55"/>
<rect x="554.43" y="491.47" width="3.26" height="9.99" fill="#ffff00" stroke="#000" stroke-opacity="0.6" stroke-width="0.55"/>
<rect x="564.63" y="501.46" width="3.26" height="42.23" fill="#00ff00" stroke="#000" stroke-opacity="0.6" stroke-width="0.55"/>
<rect x="568.71" y="501.46" width="3.26" height="35.01" fill="#ff0000" stroke="#000" stroke-opacity="0.6" stroke-width="0.55"/>
<rect x="572.79" y="501.46" width="3.26" height="33.18" fill="#ffff00" stroke="#000" stroke-opacity="0.6" stroke-width="0.55"/>
<rect x="582.99" y="501.46" width="3.26" height="45.65" fill="#00ff00" stroke="#000" stroke-opacity="0.6" stroke-width="0.55"/>
<rect x="587.07" y="501.46" width="3.26" height="45.65" fill="#ff0000" stroke="#000" stroke-opacity="0.6" stroke-width="0.55"/>
<rect x="591.15" y="501.46" width="3.26" height="41.79" fill="#ffff00" stroke="#000" stroke-opacity="0.6" stroke-width="0.55"/>
<rect x="601.35" y="499.78" width="3.26" height="1.68" fill="#00ff00" stroke="#000" stroke-opacity="0.6" stroke-width="0.55"/>
<rect x="605.43" y="501.46" width="3.26" height="7.51" fill="#ff0000" stroke="#000" stroke-opacity="0.6" stroke-width="0.55"/>
<rect x="609.51" y="501.46" width="3.26" height="8.61" fill="#ffff00" stroke="#000" stroke-opacity="0.6" stroke-width="0.55"/>
<rect x="619.71" y="498.98" width="3.26" height="2.48" fill="#00ff00" stroke="#000" stroke-opacity="0.6" stroke-width="0.55"/>
<rect x="623.79" y="499.34" width="3.26" height="2.11" fill="#ff0000" stroke="#000" stroke-opacity="0.6" stroke-width="0.55"/>
<rect x="627.87" y="499.93" width="3.26" height="1.53" fill="#ffff00" stroke="#000" stroke-opacity="0.6" stroke-width="0.55"/>
<line x1="451" y1="501.46" x2="634.6" y2="501.46" stroke="#707070" stroke-width="0.75"/>
<rect x="451" y="457.7" width="183.6" height="102.1" fill="none" stroke="#959595" stroke-width="1.2"/>
<line x1="451" y1="559.8" x2="452.9" y2="559.8" stroke="#959595" stroke-width="0.8"/>
<line x1="632.7" y1="559.8" x2="634.6" y2="559.8" stroke="#959595" stroke-width="0.8"/>
<line x1="451" y1="552.51" x2="452.1" y2="552.51" stroke="#959595" stroke-width="0.8"/>
<line x1="633.5" y1="552.51" x2="634.6" y2="552.51" stroke="#959595" stroke-width="0.8"/>
<line x1="451" y1="545.21" x2="452.9" y2="545.21" stroke="#959595" stroke-width="0.8"/>
<line x1="632.7" y1="545.21" x2="634.6" y2="545.21" stroke="#959595" stroke-width="0.8"/>
<line x1="451" y1="537.92" x2="452.1" y2="537.92" stroke="#959595" stroke-width="0.8"/>
<line x1="633.5" y1="537.92" x2="634.6" y2="537.92" stroke="#959595" stroke-width="0.8"/>
<line x1="451" y1="530.63" x2="452.9" y2="530.63" stroke="#959595" stroke-width="0.8"/>
<line x1="632.7" y1="530.63" x2="634.6" y2="530.63" stroke="#959595" stroke-width="0.8"/>
<line x1="451" y1="523.34" x2="452.1" y2="523.34" stroke="#959595" stroke-width="0.8"/>
<line x1="633.5" y1="523.34" x2="634.6" y2="523.34" stroke="#959595" stroke-width="0.8"/>
<line x1="451" y1="516.04" x2="452.9" y2="516.04" stroke="#959595" stroke-width="0.8"/>
<line x1="632.7" y1="516.04" x2="634.6" y2="516.04" stroke="#959595" stroke-width="0.8"/>
<line x1="451" y1="508.75" x2="452.1" y2="508.75" stroke="#959595" stroke-width="0.8"/>
<line x1="633.5" y1="508.75" x2="634.6" y2="508.75" stroke="#959595" stroke-width="0.8"/>
<line x1="451" y1="501.46" x2="452.9" y2="501.46" stroke="#959595" stroke-width="0.8"/>
<line x1="632.7" y1="501.46" x2="634.6" y2="501.46" stroke="#959595" stroke-width="0.8"/>
<line x1="451" y1="494.16" x2="452.1" y2="494.16" stroke="#959595" stroke-width="0.8"/>
<line x1="633.5" y1="494.16" x2="634.6" y2="494.16" stroke="#959595" stroke-width="0.8"/>
<line x1="451" y1="486.87" x2="452.9" y2="486.87" stroke="#959595" stroke-width="0.8"/>
<line x1="632.7" y1="486.87" x2="634.6" y2="486.87" stroke="#959595" stroke-width="0.8"/>
<line x1="451" y1="479.58" x2="452.1" y2="479.58" stroke="#959595" stroke-width="0.8"/>
<line x1="633.5" y1="479.58" x2="634.6" y2="479.58" stroke="#959595" stroke-width="0.8"/>
<line x1="451" y1="472.29" x2="452.9" y2="472.29" stroke="#959595" stroke-width="0.8"/>
<line x1="632.7" y1="472.29" x2="634.6" y2="472.29" stroke="#959595" stroke-width="0.8"/>
<line x1="451" y1="464.99" x2="452.1" y2="464.99" stroke="#959595" stroke-width="0.8"/>
<line x1="633.5" y1="464.99" x2="634.6" y2="464.99" stroke="#959595" stroke-width="0.8"/>
<line x1="451" y1="457.7" x2="452.9" y2="457.7" stroke="#959595" stroke-width="0.8"/>
<line x1="632.7" y1="457.7" x2="634.6" y2="457.7" stroke="#959595" stroke-width="0.8"/>
<line x1="460.18" y1="559.8" x2="460.18" y2="557.9" stroke="#959595" stroke-width="0.8"/>
<line x1="460.18" y1="457.7" x2="460.18" y2="459.6" stroke="#959595" stroke-width="0.8"/>
<line x1="478.54" y1="559.8" x2="478.54" y2="557.9" stroke="#959595" stroke-width="0.8"/>
<line x1="478.54" y1="457.7" x2="478.54" y2="459.6" stroke="#959595" stroke-width="0.8"/>
<line x1="496.9" y1="559.8" x2="496.9" y2="557.9" stroke="#959595" stroke-width="0.8"/>
<line x1="496.9" y1="457.7" x2="496.9" y2="459.6" stroke="#959595" stroke-width="0.8"/>
<line x1="515.26" y1="559.8" x2="515.26" y2="557.9" stroke="#959595" stroke-width="0.8"/>
<line x1="515.26" y1="457.7" x2="515.26" y2="459.6" stroke="#959595" stroke-width="0.8"/>
<line x1="533.62" y1="559.8" x2="533.62" y2="557.9" stroke="#959595" stroke-width="0.8"/>
<line x1="533.62" y1="457.7" x2="533.62" y2="459.6" stroke="#959595" stroke-width="0.8"/>
<line x1="551.98" y1="559.8" x2="551.98" y2="557.9" stroke="#959595" stroke-width="0.8"/>
<line x1="551.98" y1="457.7" x2="551.98" y2="459.6" stroke="#959595" stroke-width="0.8"/>
<line x1="570.34" y1="559.8" x2="570.34" y2="557.9" stroke="#959595" stroke-width="0.8"/>
<line x1="570.34" y1="457.7" x2="570.34" y2="459.6" stroke="#959595" stroke-width="0.8"/>
<line x1="588.7" y1="559.8" x2="588.7" y2="557.9" stroke="#959595" stroke-width="0.8"/>
<line x1="588.7" y1="457.7" x2="588.7" y2="459.6" stroke="#959595" stroke-width="0.8"/>
<line x1="607.06" y1="559.8" x2="607.06" y2="557.9" stroke="#959595" stroke-width="0.8"/>
<line x1="607.06" y1="457.7" x2="607.06" y2="459.6" stroke="#959595" stroke-width="0.8"/>
<line x1="625.42" y1="559.8" x2="625.42" y2="557.9" stroke="#959595" stroke-width="0.8"/>
<line x1="625.42" y1="457.7" x2="625.42" y2="459.6" stroke="#959595" stroke-width="0.8"/>
<text x="449.8" y="563.4" font-size="10" text-anchor="end" fill="#1a1a1a">80%</text>
<rect x="425.09" y="560.78" width="4.2" height="0.85" fill="#1a1a1a"/>
<text x="449.8" y="548.81" font-size="10" text-anchor="end" fill="#1a1a1a">60%</text>
<rect x="425.09" y="546.19" width="4.2" height="0.85" fill="#1a1a1a"/>
<text x="449.8" y="534.23" font-size="10" text-anchor="end" fill="#1a1a1a">40%</text>
<rect x="425.09" y="531.61" width="4.2" height="0.85" fill="#1a1a1a"/>
<text x="449.8" y="519.64" font-size="10" text-anchor="end" fill="#1a1a1a">20%</text>
<rect x="425.09" y="517.02" width="4.2" height="0.85" fill="#1a1a1a"/>
<text x="449.8" y="505.06" font-size="10" text-anchor="end" fill="#1a1a1a">0%</text>
<text x="449.8" y="490.47" font-size="10" text-anchor="end" fill="#1a1a1a">20%</text>
<text x="449.8" y="475.89" font-size="10" text-anchor="end" fill="#1a1a1a">40%</text>
<text x="449.8" y="461.3" font-size="10" text-anchor="end" fill="#1a1a1a">60%</text>
<text x="459.88" y="570.7" font-size="10" text-anchor="middle" fill="#1a1a1a">e1</text>
<text x="478.24" y="570.7" font-size="10" text-anchor="middle" fill="#1a1a1a">e2</text>
<text x="496.6" y="570.7" font-size="10" text-anchor="middle" fill="#1a1a1a">e3</text>
<text x="514.96" y="570.7" font-size="10" text-anchor="middle" fill="#1a1a1a">e4</text>
<text x="533.32" y="570.7" font-size="10" text-anchor="middle" fill="#1a1a1a">e5</text>
<text x="551.68" y="570.7" font-size="10" text-anchor="middle" fill="#1a1a1a">e6</text>
<text x="570.04" y="570.7" font-size="10" text-anchor="middle" fill="#1a1a1a">e7</text>
<text x="588.4" y="570.7" font-size="10" text-anchor="middle" fill="#1a1a1a">e8</text>
<text x="602.16" y="570.7" font-size="10" text-anchor="middle" fill="#1a1a1a">e9</text>
<text x="623.42" y="570.7" font-size="10" text-anchor="middle" fill="#1a1a1a">overall</text>
<text transform="translate(462.7 538.9) rotate(-90)" font-size="9.2" fill="#1a1a1a">(88.52%)</text>
<text transform="translate(481.8 501.4) rotate(-90)" font-size="9.2" fill="#1a1a1a">(88.24%)</text>
<text transform="translate(500.2 538.9) rotate(-90)" font-size="9.2" fill="#1a1a1a">(83.33%)</text>
<text transform="translate(518.2 538.9) rotate(-90)" font-size="9.2" fill="#1a1a1a">(57.89%)</text>
<text transform="translate(536.4 538.9) rotate(-90)" font-size="9.2" fill="#1a1a1a">(78.87%)</text>
<text transform="translate(556.3 538.9) rotate(-90)" font-size="9.2" fill="#1a1a1a">(80.85%)</text>
<text transform="translate(574.6 500.8) rotate(-90)" font-size="9.2" fill="#1a1a1a">(63.16%)</text>
<text transform="translate(591.8 500.8) rotate(-90)" font-size="9.2" fill="#1a1a1a">(71.43%)</text>
<text transform="translate(611.7 500.8) rotate(-90)" font-size="9.2" fill="#1a1a1a">(63.64%)</text>
<text transform="translate(628.7 538.9) rotate(-90)" font-size="9.2" fill="#1a1a1a">(71.56%)</text>
<text transform="translate(474.3 452.7) scale(1 1.03)" font-size="11.6" fill="#1a1a1a">SVM classification accuracy</text>
<text x="73.2" y="97.4" style="font-family:'Liberation Serif', serif" font-size="17.4" text-anchor="middle" fill="#111">Tennis</text>
<text x="73.2" y="238.4" style="font-family:'Liberation Serif', serif" font-size="17.4" text-anchor="middle" fill="#111">News</text>
<text x="73.2" y="379.4" style="font-family:'Liberation Serif', serif" font-size="17.4" text-anchor="middle" fill="#111">Volleyball-I</text>
<text x="73.2" y="520.8" style="font-family:'Liberation Serif', serif" font-size="17.4" text-anchor="middle" fill="#111">Volleyball-II</text>
</svg>
</body></html>
